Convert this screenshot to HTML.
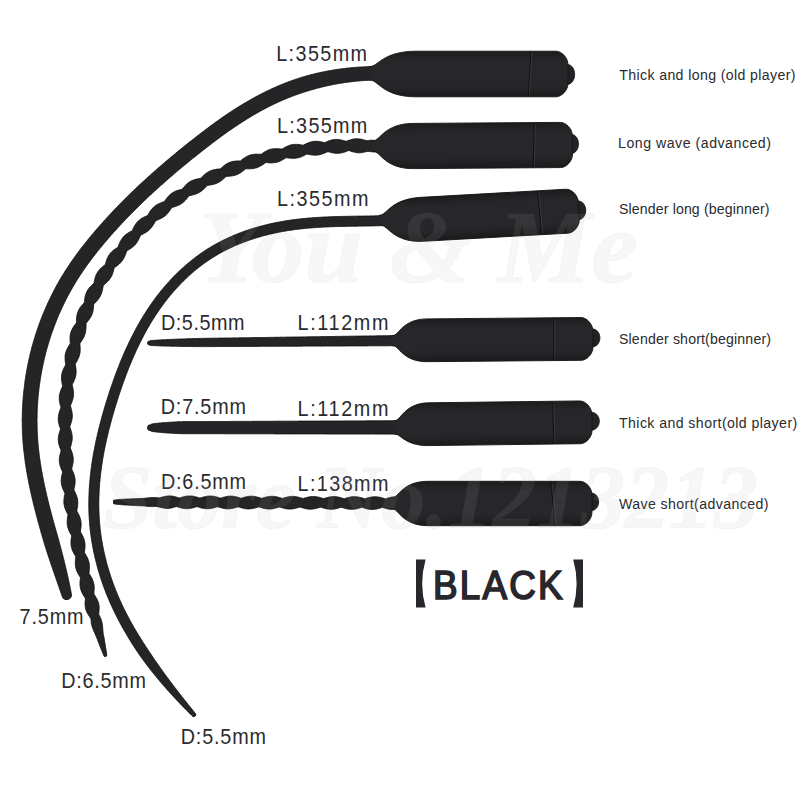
<!DOCTYPE html>
<html><head><meta charset="utf-8"><style>
html,body{margin:0;padding:0;background:#fff;}
body{width:800px;height:800px;overflow:hidden;position:relative;}
svg{position:absolute;left:0;top:0;}
</style></head><body>
<svg width="800" height="800" viewBox="0 0 800 800">
<defs>
<linearGradient id="bg" x1="0" y1="0" x2="0" y2="1">
<stop offset="0" stop-color="#1c1c1f"/><stop offset="0.22" stop-color="#27272a"/><stop offset="0.75" stop-color="#27272a"/><stop offset="1" stop-color="#1b1b1e"/>
</linearGradient>
</defs>
<rect width="800" height="800" fill="#ffffff"/>
<g fill="#252528" stroke="#0e0e10" stroke-width="0.9" stroke-linejoin="round">
<path d="M376.0,66.6 L375.2,66.6 L374.4,66.6 L373.5,66.6 L372.7,66.6 L371.9,66.6 L371.1,66.6 L370.3,66.7 L369.5,66.7 L368.7,66.7 L367.9,66.7 L367.1,66.7 L366.2,66.8 L365.4,66.8 L364.6,66.8 L363.8,66.9 L363.0,66.9 L362.2,67.0 L361.4,67.0 L360.6,67.0 L359.8,67.1 L358.9,67.1 L358.1,67.2 L357.3,67.3 L356.5,67.3 L355.7,67.4 L354.9,67.4 L354.1,67.5 L353.3,67.6 L352.5,67.6 L351.7,67.7 L350.9,67.8 L350.0,67.9 L349.2,68.0 L348.4,68.0 L347.6,68.1 L346.8,68.2 L346.0,68.3 L345.2,68.4 L344.4,68.5 L343.6,68.6 L342.8,68.7 L342.0,68.8 L341.2,68.9 L340.4,69.0 L339.6,69.1 L338.8,69.2 L337.9,69.3 L337.1,69.5 L336.3,69.6 L335.5,69.7 L334.7,69.8 L333.9,70.0 L333.1,70.1 L332.3,70.2 L331.5,70.4 L330.7,70.5 L329.9,70.6 L329.1,70.8 L328.3,70.9 L327.5,71.1 L326.7,71.2 L325.9,71.4 L325.1,71.5 L324.3,71.7 L323.5,71.9 L322.7,72.0 L321.9,72.2 L321.1,72.3 L320.3,72.5 L319.5,72.7 L318.7,72.9 L318.0,73.0 L317.2,73.2 L316.4,73.4 L315.6,73.6 L314.8,73.8 L314.0,74.0 L313.2,74.2 L312.4,74.4 L311.6,74.6 L310.8,74.8 L310.0,75.0 L309.3,75.2 L308.5,75.4 L307.7,75.6 L306.9,75.8 L306.1,76.0 L305.3,76.3 L304.5,76.5 L303.8,76.7 L303.0,77.0 L302.2,77.2 L301.4,77.4 L300.6,77.7 L299.9,77.9 L299.1,78.2 L298.3,78.4 L297.5,78.7 L296.8,78.9 L296.0,79.2 L295.2,79.4 L294.4,79.7 L293.7,80.0 L292.9,80.2 L292.1,80.5 L291.4,80.8 L290.6,81.1 L289.8,81.4 L289.1,81.6 L288.3,81.9 L287.5,82.2 L286.8,82.5 L286.0,82.8 L285.2,83.1 L284.5,83.4 L283.7,83.7 L283.0,84.0 L282.2,84.3 L281.5,84.6 L280.7,84.9 L279.9,85.2 L279.2,85.5 L278.4,85.9 L277.7,86.2 L276.9,86.5 L276.2,86.8 L275.5,87.2 L274.7,87.5 L274.0,87.8 L273.2,88.1 L272.5,88.5 L271.7,88.8 L271.0,89.2 L270.3,89.5 L269.5,89.9 L268.8,90.2 L268.1,90.6 L267.3,90.9 L266.6,91.3 L265.9,91.6 L265.1,92.0 L264.4,92.3 L263.7,92.7 L263.0,93.1 L262.2,93.4 L261.5,93.8 L260.8,94.2 L260.1,94.5 L259.3,94.9 L258.6,95.3 L257.9,95.7 L257.2,96.0 L256.5,96.4 L255.8,96.8 L255.0,97.2 L254.3,97.6 L253.6,98.0 L252.9,98.4 L252.2,98.8 L251.5,99.2 L250.8,99.6 L250.1,100.0 L249.4,100.4 L248.7,100.8 L248.0,101.2 L247.3,101.6 L246.6,102.0 L245.9,102.4 L245.2,102.8 L244.5,103.2 L243.8,103.6 L243.1,104.0 L242.4,104.5 L241.7,104.9 L241.0,105.3 L240.3,105.7 L239.6,106.1 L239.0,106.6 L238.3,107.0 L237.6,107.4 L236.9,107.8 L236.2,108.3 L235.5,108.7 L234.9,109.1 L234.2,109.6 L233.5,110.0 L232.8,110.5 L232.1,110.9 L231.5,111.3 L230.8,111.8 L230.1,112.2 L229.4,112.7 L228.8,113.1 L228.1,113.6 L227.4,114.0 L226.8,114.5 L226.1,114.9 L225.4,115.4 L224.8,115.8 L224.1,116.3 L223.4,116.7 L222.8,117.2 L222.1,117.6 L221.5,118.1 L220.8,118.6 L220.1,119.0 L219.5,119.5 L218.8,119.9 L218.2,120.4 L217.5,120.9 L216.9,121.3 L216.2,121.8 L215.5,122.3 L214.9,122.8 L214.2,123.2 L213.6,123.7 L212.9,124.2 L212.3,124.6 L211.7,125.1 L211.0,125.6 L210.4,126.1 L209.7,126.5 L209.1,127.0 L208.4,127.5 L207.8,128.0 L207.2,128.5 L206.5,128.9 L205.9,129.4 L205.2,129.9 L204.6,130.4 L204.0,130.9 L203.3,131.4 L202.7,131.8 L202.1,132.3 L201.4,132.8 L200.8,133.3 L200.2,133.8 L199.5,134.3 L198.9,134.8 L198.3,135.3 L197.6,135.7 L197.0,136.2 L196.4,136.7 L195.7,137.2 L195.1,137.7 L194.5,138.2 L193.9,138.7 L193.2,139.2 L192.6,139.7 L192.0,140.2 L191.4,140.7 L190.7,141.1 L190.1,141.6 L189.5,142.1 L188.9,142.6 L188.2,143.1 L187.6,143.6 L187.0,144.1 L186.4,144.6 L185.7,145.1 L185.1,145.6 L184.5,146.1 L183.9,146.6 L183.3,147.1 L182.6,147.6 L182.0,148.1 L181.4,148.6 L180.8,149.1 L180.2,149.6 L179.5,150.1 L178.9,150.6 L178.3,151.1 L177.7,151.6 L177.1,152.1 L176.5,152.6 L175.8,153.1 L175.2,153.7 L174.6,154.2 L174.0,154.7 L173.4,155.2 L172.8,155.7 L172.1,156.2 L171.5,156.7 L170.9,157.2 L170.3,157.7 L169.7,158.2 L169.1,158.8 L168.5,159.3 L167.9,159.8 L167.3,160.3 L166.6,160.8 L166.0,161.3 L165.4,161.8 L164.8,162.4 L164.2,162.9 L163.6,163.4 L163.0,163.9 L162.4,164.4 L161.8,165.0 L161.2,165.5 L160.6,166.0 L160.0,166.5 L159.4,167.0 L158.8,167.6 L158.2,168.1 L157.6,168.6 L157.0,169.1 L156.4,169.7 L155.8,170.2 L155.2,170.7 L154.6,171.3 L154.0,171.8 L153.4,172.3 L152.8,172.8 L152.2,173.4 L151.6,173.9 L151.0,174.4 L150.4,175.0 L149.8,175.5 L149.2,176.0 L148.6,176.6 L148.0,177.1 L147.4,177.6 L146.8,178.2 L146.2,178.7 L145.6,179.3 L145.0,179.8 L144.5,180.3 L143.9,180.9 L143.3,181.4 L142.7,182.0 L142.1,182.5 L141.5,183.0 L140.9,183.6 L140.3,184.1 L139.8,184.7 L139.2,185.2 L138.6,185.8 L138.0,186.3 L137.4,186.9 L136.8,187.4 L136.3,188.0 L135.7,188.5 L135.1,189.1 L134.5,189.6 L133.9,190.2 L133.4,190.7 L132.8,191.3 L132.2,191.8 L131.6,192.4 L131.1,193.0 L130.5,193.5 L129.9,194.1 L129.3,194.6 L128.8,195.2 L128.2,195.7 L127.6,196.3 L127.1,196.9 L126.5,197.4 L125.9,198.0 L125.4,198.6 L124.8,199.1 L124.2,199.7 L123.7,200.3 L123.1,200.8 L122.5,201.4 L122.0,202.0 L121.4,202.5 L120.8,203.1 L120.3,203.7 L119.7,204.2 L119.2,204.8 L118.6,205.4 L118.0,206.0 L117.5,206.5 L116.9,207.1 L116.4,207.7 L115.8,208.3 L115.3,208.8 L114.7,209.4 L114.1,210.0 L113.6,210.6 L113.0,211.2 L112.5,211.8 L111.9,212.3 L111.4,212.9 L110.8,213.5 L110.3,214.1 L109.8,214.7 L109.2,215.3 L108.7,215.9 L108.1,216.4 L107.6,217.0 L107.0,217.6 L106.5,218.2 L106.0,218.8 L105.4,219.4 L104.9,220.0 L104.3,220.6 L103.8,221.2 L103.3,221.8 L102.7,222.4 L102.2,223.0 L101.7,223.6 L101.1,224.2 L100.6,224.8 L100.1,225.4 L99.5,226.0 L99.0,226.6 L98.5,227.2 L97.9,227.8 L97.4,228.4 L96.9,229.0 L96.4,229.6 L95.8,230.2 L95.3,230.8 L94.8,231.4 L94.3,232.1 L93.8,232.7 L93.2,233.3 L92.7,233.9 L92.2,234.5 L91.7,235.1 L91.2,235.8 L90.7,236.4 L90.1,237.0 L89.6,237.6 L89.1,238.2 L88.6,238.9 L88.1,239.5 L87.6,240.1 L87.1,240.7 L86.6,241.4 L86.1,242.0 L85.6,242.6 L85.1,243.3 L84.6,243.9 L84.1,244.5 L83.6,245.2 L83.1,245.8 L82.6,246.4 L82.1,247.1 L81.6,247.7 L81.1,248.3 L80.6,249.0 L80.1,249.6 L79.6,250.3 L79.2,250.9 L78.7,251.6 L78.2,252.2 L77.7,252.9 L77.2,253.5 L76.8,254.2 L76.3,254.8 L75.8,255.5 L75.3,256.1 L74.9,256.8 L74.4,257.5 L73.9,258.1 L73.5,258.8 L73.0,259.4 L72.5,260.1 L72.1,260.8 L71.6,261.4 L71.1,262.1 L70.7,262.8 L70.2,263.4 L69.8,264.1 L69.3,264.8 L68.9,265.5 L68.4,266.1 L68.0,266.8 L67.5,267.5 L67.1,268.2 L66.6,268.8 L66.2,269.5 L65.8,270.2 L65.3,270.9 L64.9,271.6 L64.5,272.3 L64.0,273.0 L63.6,273.7 L63.2,274.4 L62.7,275.0 L62.3,275.7 L61.9,276.4 L61.5,277.1 L61.1,277.8 L60.7,278.5 L60.2,279.2 L59.8,279.9 L59.4,280.6 L59.0,281.3 L58.6,282.1 L58.2,282.8 L57.8,283.5 L57.4,284.2 L57.0,284.9 L56.6,285.6 L56.2,286.3 L55.9,287.0 L55.5,287.7 L55.1,288.5 L54.7,289.2 L54.3,289.9 L54.0,290.6 L53.6,291.3 L53.2,292.1 L52.8,292.8 L52.5,293.5 L52.1,294.2 L51.7,295.0 L51.4,295.7 L51.0,296.4 L50.7,297.2 L50.3,297.9 L50.0,298.6 L49.6,299.4 L49.3,300.1 L48.9,300.8 L48.6,301.6 L48.2,302.3 L47.9,303.0 L47.5,303.8 L47.2,304.5 L46.9,305.3 L46.5,306.0 L46.2,306.7 L45.9,307.5 L45.6,308.2 L45.2,309.0 L44.9,309.7 L44.6,310.5 L44.3,311.2 L44.0,312.0 L43.7,312.7 L43.3,313.5 L43.0,314.2 L42.7,315.0 L42.4,315.7 L42.1,316.5 L41.8,317.2 L41.5,318.0 L41.2,318.8 L41.0,319.5 L40.7,320.3 L40.4,321.0 L40.1,321.8 L39.8,322.6 L39.5,323.3 L39.2,324.1 L39.0,324.8 L38.7,325.6 L38.4,326.4 L38.2,327.1 L37.9,327.9 L37.6,328.7 L37.4,329.4 L37.1,330.2 L36.8,331.0 L36.6,331.8 L36.3,332.5 L36.1,333.3 L35.8,334.1 L35.6,334.8 L35.3,335.6 L35.1,336.4 L34.9,337.2 L34.6,338.0 L34.4,338.7 L34.2,339.5 L33.9,340.3 L33.7,341.1 L33.5,341.8 L33.2,342.6 L33.0,343.4 L32.8,344.2 L32.6,345.0 L32.4,345.8 L32.1,346.5 L31.9,347.3 L31.7,348.1 L31.5,348.9 L31.3,349.7 L31.1,350.5 L30.9,351.2 L30.7,352.0 L30.5,352.8 L30.3,353.6 L30.1,354.4 L29.9,355.2 L29.8,356.0 L29.6,356.8 L29.4,357.6 L29.2,358.4 L29.0,359.1 L28.9,359.9 L28.7,360.7 L28.5,361.5 L28.3,362.3 L28.2,363.1 L28.0,363.9 L27.9,364.7 L27.7,365.5 L27.5,366.3 L27.4,367.1 L27.2,367.9 L27.1,368.7 L26.9,369.5 L26.8,370.3 L26.6,371.1 L26.5,371.9 L26.4,372.7 L26.2,373.5 L26.1,374.3 L26.0,375.1 L25.8,375.9 L25.7,376.7 L25.6,377.5 L25.5,378.3 L25.3,379.1 L25.2,379.9 L25.1,380.7 L25.0,381.5 L24.9,382.3 L24.8,383.1 L24.7,383.9 L24.6,384.7 L24.5,385.5 L24.4,386.3 L24.3,387.2 L24.2,388.0 L24.1,388.8 L24.0,389.6 L23.9,390.4 L23.8,391.2 L23.7,392.0 L23.6,392.8 L23.6,393.6 L23.5,394.4 L23.4,395.2 L23.3,396.0 L23.3,396.8 L23.2,397.7 L23.1,398.5 L23.1,399.3 L23.0,400.1 L22.9,400.9 L22.9,401.7 L22.8,402.5 L22.8,403.3 L22.7,404.1 L22.7,404.9 L22.6,405.8 L22.6,406.6 L22.6,407.4 L22.5,408.2 L22.5,409.0 L22.5,409.8 L22.4,410.6 L22.4,411.4 L22.4,412.3 L22.3,413.1 L22.3,413.9 L22.3,414.7 L22.3,415.5 L22.3,416.3 L22.3,417.1 L22.3,417.9 L22.2,418.7 L22.2,419.6 L22.2,420.4 L22.2,421.2 L22.2,422.0 L22.2,422.8 L22.3,423.6 L22.3,424.4 L22.3,425.2 L22.3,426.1 L22.3,426.9 L22.3,427.7 L22.3,428.5 L22.4,429.3 L22.4,430.1 L22.4,430.9 L22.5,431.7 L22.5,432.6 L22.5,433.4 L22.6,434.2 L22.6,435.0 L22.6,435.8 L22.7,436.6 L22.7,437.4 L22.8,438.2 L22.8,439.0 L22.9,439.9 L22.9,440.7 L23.0,441.5 L23.1,442.3 L23.1,443.1 L23.2,443.9 L23.3,444.7 L23.3,445.5 L23.4,446.3 L23.5,447.1 L23.6,448.0 L23.6,448.8 L23.7,449.6 L23.8,450.4 L23.9,451.2 L24.0,452.0 L24.1,452.8 L24.2,453.6 L24.3,454.4 L24.4,455.2 L24.5,456.0 L24.6,456.8 L24.7,457.6 L24.8,458.4 L24.9,459.2 L25.0,460.0 L25.1,460.8 L25.2,461.6 L25.3,462.4 L25.4,463.2 L25.5,464.0 L25.7,464.8 L25.8,465.6 L25.9,466.4 L26.0,467.2 L26.2,468.0 L26.3,468.8 L26.4,469.6 L26.6,470.4 L26.7,471.2 L26.8,472.0 L27.0,472.8 L27.1,473.6 L27.2,474.4 L27.4,475.2 L27.5,476.0 L27.7,476.8 L27.8,477.6 L28.0,478.3 L28.1,479.1 L28.3,479.9 L28.4,480.7 L28.6,481.5 L28.7,482.3 L28.9,483.1 L29.1,483.9 L29.2,484.7 L29.4,485.4 L29.5,486.2 L29.7,487.0 L29.9,487.8 L30.0,488.6 L30.2,489.4 L30.4,490.2 L30.5,491.0 L30.7,491.7 L30.9,492.5 L31.1,493.3 L31.2,494.1 L31.4,494.9 L31.6,495.7 L31.8,496.4 L32.0,497.2 L32.1,498.0 L32.3,498.8 L32.5,499.6 L32.7,500.3 L32.9,501.1 L33.1,501.9 L33.3,502.7 L33.4,503.5 L33.6,504.2 L33.8,505.0 L34.0,505.8 L34.2,506.6 L34.4,507.3 L34.6,508.1 L34.8,508.9 L35.0,509.7 L35.2,510.4 L35.4,511.2 L35.6,512.0 L35.8,512.8 L36.0,513.5 L36.2,514.3 L36.4,515.1 L36.6,515.9 L36.8,516.6 L37.0,517.4 L37.2,518.2 L37.4,518.9 L37.6,519.7 L37.8,520.5 L38.0,521.2 L38.2,522.0 L38.5,522.8 L38.7,523.6 L38.9,524.3 L39.1,525.1 L39.3,525.9 L39.5,526.6 L39.7,527.4 L39.9,528.2 L40.2,528.9 L40.4,529.7 L40.6,530.5 L40.8,531.2 L41.0,532.0 L41.2,532.8 L41.4,533.5 L41.7,534.3 L41.9,535.1 L42.1,535.8 L42.3,536.6 L42.5,537.3 L42.8,538.1 L43.0,538.9 L43.2,539.6 L43.4,540.4 L43.6,541.2 L43.9,541.9 L44.1,542.7 L44.3,543.4 L44.6,544.2 L44.8,545.0 L45.0,545.7 L45.3,546.5 L45.5,547.2 L45.7,548.0 L46.0,548.7 L46.2,549.5 L46.5,550.3 L46.7,551.0 L46.9,551.8 L47.2,552.5 L47.4,553.3 L47.7,554.0 L47.9,554.8 L48.2,555.5 L48.4,556.3 L48.7,557.0 L48.9,557.8 L49.2,558.5 L49.4,559.3 L49.7,560.0 L49.9,560.8 L50.2,561.5 L50.4,562.3 L50.7,563.0 L50.9,563.8 L51.2,564.5 L51.4,565.3 L51.7,566.0 L52.0,566.8 L52.2,567.5 L52.5,568.3 L52.7,569.0 L53.0,569.8 L53.2,570.5 L53.5,571.3 L53.8,572.0 L54.0,572.7 L54.3,573.5 L54.5,574.2 L54.8,575.0 L55.0,575.7 L55.3,576.5 L55.6,577.2 L55.8,578.0 L56.1,578.7 L56.3,579.5 L56.6,580.2 L56.8,580.9 L57.1,581.7 L57.4,582.4 L57.6,583.2 L57.9,583.9 L58.1,584.7 L58.4,585.4 L58.7,586.2 L58.9,586.9 L59.2,587.7 L59.4,588.4 L59.7,589.1 L59.9,589.9 L60.2,590.6 L60.5,591.4 L60.7,592.1 L61.0,592.9 L61.2,593.6 L61.5,594.4 L61.7,595.1 L62.0,595.8 L62.2,596.6 A4.8,4.8 0 0 0 71.4,594.2 L71.4,594.2 L71.3,593.4 L71.1,592.6 L71.0,591.8 L70.8,591.0 L70.7,590.3 L70.5,589.5 L70.4,588.7 L70.2,587.9 L70.0,587.1 L69.9,586.3 L69.7,585.6 L69.6,584.8 L69.4,584.0 L69.2,583.2 L69.1,582.4 L68.9,581.7 L68.7,580.9 L68.6,580.1 L68.4,579.3 L68.2,578.6 L68.1,577.8 L67.9,577.0 L67.7,576.2 L67.5,575.4 L67.4,574.7 L67.2,573.9 L67.0,573.1 L66.8,572.3 L66.6,571.6 L66.5,570.8 L66.3,570.0 L66.1,569.3 L65.9,568.5 L65.7,567.7 L65.6,566.9 L65.4,566.2 L65.2,565.4 L65.0,564.6 L64.8,563.8 L64.6,563.1 L64.4,562.3 L64.3,561.5 L64.1,560.8 L63.9,560.0 L63.7,559.2 L63.5,558.5 L63.3,557.7 L63.1,556.9 L62.9,556.1 L62.7,555.4 L62.5,554.6 L62.3,553.8 L62.1,553.1 L61.9,552.3 L61.7,551.5 L61.5,550.8 L61.3,550.0 L61.1,549.3 L60.9,548.5 L60.7,547.7 L60.5,547.0 L60.3,546.2 L60.1,545.4 L59.9,544.7 L59.7,543.9 L59.5,543.1 L59.3,542.4 L59.1,541.6 L58.9,540.9 L58.7,540.1 L58.5,539.3 L58.3,538.6 L58.1,537.8 L57.8,537.1 L57.6,536.3 L57.4,535.5 L57.2,534.8 L57.0,534.0 L56.8,533.3 L56.5,532.5 L56.3,531.8 L56.1,531.0 L55.9,530.2 L55.7,529.5 L55.5,528.7 L55.3,528.0 L55.0,527.2 L54.8,526.5 L54.6,525.7 L54.4,524.9 L54.2,524.2 L54.0,523.4 L53.8,522.7 L53.6,521.9 L53.4,521.2 L53.1,520.4 L52.9,519.6 L52.7,518.9 L52.5,518.1 L52.3,517.4 L52.1,516.6 L51.9,515.9 L51.7,515.1 L51.5,514.3 L51.3,513.6 L51.1,512.8 L50.9,512.1 L50.7,511.3 L50.5,510.6 L50.3,509.8 L50.1,509.0 L49.9,508.3 L49.7,507.5 L49.5,506.8 L49.3,506.0 L49.1,505.3 L48.9,504.5 L48.8,503.7 L48.6,503.0 L48.4,502.2 L48.2,501.5 L48.0,500.7 L47.8,499.9 L47.6,499.2 L47.5,498.4 L47.3,497.7 L47.1,496.9 L46.9,496.2 L46.7,495.4 L46.6,494.6 L46.4,493.9 L46.2,493.1 L46.0,492.4 L45.9,491.6 L45.7,490.8 L45.5,490.1 L45.3,489.3 L45.2,488.5 L45.0,487.8 L44.8,487.0 L44.7,486.3 L44.5,485.5 L44.3,484.7 L44.2,484.0 L44.0,483.2 L43.9,482.5 L43.7,481.7 L43.6,480.9 L43.4,480.2 L43.3,479.4 L43.1,478.6 L43.0,477.9 L42.8,477.1 L42.7,476.4 L42.5,475.6 L42.4,474.8 L42.2,474.1 L42.1,473.3 L42.0,472.5 L41.8,471.8 L41.7,471.0 L41.5,470.3 L41.4,469.5 L41.3,468.7 L41.2,468.0 L41.0,467.2 L40.9,466.4 L40.8,465.7 L40.7,464.9 L40.5,464.1 L40.4,463.4 L40.3,462.6 L40.2,461.8 L40.1,461.1 L40.0,460.3 L39.9,459.5 L39.7,458.8 L39.6,458.0 L39.5,457.3 L39.4,456.5 L39.3,455.7 L39.2,455.0 L39.1,454.2 L39.0,453.4 L39.0,452.7 L38.9,451.9 L38.8,451.1 L38.7,450.4 L38.6,449.6 L38.5,448.8 L38.4,448.1 L38.4,447.3 L38.3,446.5 L38.2,445.8 L38.1,445.0 L38.1,444.2 L38.0,443.5 L37.9,442.7 L37.9,441.9 L37.8,441.2 L37.8,440.4 L37.7,439.6 L37.7,438.8 L37.6,438.1 L37.6,437.3 L37.5,436.5 L37.5,435.8 L37.4,435.0 L37.4,434.2 L37.3,433.5 L37.3,432.7 L37.3,431.9 L37.2,431.2 L37.2,430.4 L37.2,429.6 L37.2,428.9 L37.1,428.1 L37.1,427.3 L37.1,426.6 L37.1,425.8 L37.1,425.0 L37.1,424.2 L37.1,423.5 L37.0,422.7 L37.0,421.9 L37.0,421.2 L37.0,420.4 L37.0,419.6 L37.0,418.9 L37.1,418.1 L37.1,417.3 L37.1,416.5 L37.1,415.8 L37.1,415.0 L37.1,414.2 L37.1,413.5 L37.2,412.7 L37.2,411.9 L37.2,411.2 L37.2,410.4 L37.3,409.6 L37.3,408.9 L37.3,408.1 L37.4,407.3 L37.4,406.6 L37.5,405.8 L37.5,405.0 L37.6,404.2 L37.6,403.5 L37.7,402.7 L37.7,401.9 L37.8,401.2 L37.8,400.4 L37.9,399.6 L37.9,398.9 L38.0,398.1 L38.1,397.3 L38.1,396.6 L38.2,395.8 L38.3,395.0 L38.4,394.3 L38.4,393.5 L38.5,392.7 L38.6,392.0 L38.7,391.2 L38.8,390.4 L38.9,389.7 L38.9,388.9 L39.0,388.2 L39.1,387.4 L39.2,386.6 L39.3,385.9 L39.4,385.1 L39.5,384.3 L39.6,383.6 L39.8,382.8 L39.9,382.0 L40.0,381.3 L40.1,380.5 L40.2,379.8 L40.3,379.0 L40.4,378.2 L40.6,377.5 L40.7,376.7 L40.8,376.0 L40.9,375.2 L41.1,374.4 L41.2,373.7 L41.4,372.9 L41.5,372.2 L41.6,371.4 L41.8,370.7 L41.9,369.9 L42.1,369.1 L42.2,368.4 L42.4,367.6 L42.5,366.9 L42.7,366.1 L42.8,365.4 L43.0,364.6 L43.2,363.9 L43.3,363.1 L43.5,362.4 L43.7,361.6 L43.8,360.9 L44.0,360.1 L44.2,359.4 L44.3,358.6 L44.5,357.9 L44.7,357.1 L44.9,356.4 L45.1,355.6 L45.3,354.9 L45.5,354.1 L45.6,353.4 L45.8,352.6 L46.0,351.9 L46.2,351.2 L46.4,350.4 L46.6,349.7 L46.8,348.9 L47.0,348.2 L47.3,347.4 L47.5,346.7 L47.7,346.0 L47.9,345.2 L48.1,344.5 L48.3,343.7 L48.6,343.0 L48.8,342.3 L49.0,341.5 L49.2,340.8 L49.5,340.1 L49.7,339.3 L49.9,338.6 L50.2,337.9 L50.4,337.1 L50.6,336.4 L50.9,335.7 L51.1,334.9 L51.4,334.2 L51.6,333.5 L51.9,332.8 L52.1,332.0 L52.4,331.3 L52.6,330.6 L52.9,329.9 L53.2,329.1 L53.4,328.4 L53.7,327.7 L54.0,327.0 L54.2,326.2 L54.5,325.5 L54.8,324.8 L55.1,324.1 L55.3,323.4 L55.6,322.7 L55.9,321.9 L56.2,321.2 L56.5,320.5 L56.8,319.8 L57.0,319.1 L57.3,318.4 L57.6,317.7 L57.9,317.0 L58.2,316.2 L58.5,315.5 L58.8,314.8 L59.1,314.1 L59.4,313.4 L59.8,312.7 L60.1,312.0 L60.4,311.3 L60.7,310.6 L61.0,309.9 L61.3,309.2 L61.7,308.5 L62.0,307.8 L62.3,307.1 L62.6,306.4 L63.0,305.7 L63.3,305.0 L63.6,304.3 L64.0,303.6 L64.3,303.0 L64.6,302.3 L65.0,301.6 L65.3,300.9 L65.7,300.2 L66.0,299.5 L66.4,298.8 L66.7,298.2 L67.1,297.5 L67.4,296.8 L67.8,296.1 L68.2,295.4 L68.5,294.7 L68.9,294.1 L69.2,293.4 L69.6,292.7 L70.0,292.0 L70.4,291.4 L70.7,290.7 L71.1,290.0 L71.5,289.4 L71.9,288.7 L72.3,288.0 L72.6,287.4 L73.0,286.7 L73.4,286.0 L73.8,285.4 L74.2,284.7 L74.6,284.1 L75.0,283.4 L75.4,282.7 L75.8,282.1 L76.2,281.4 L76.6,280.8 L77.0,280.1 L77.4,279.5 L77.8,278.8 L78.2,278.2 L78.7,277.5 L79.1,276.9 L79.5,276.2 L79.9,275.6 L80.3,274.9 L80.8,274.3 L81.2,273.7 L81.6,273.0 L82.0,272.4 L82.5,271.7 L82.9,271.1 L83.3,270.5 L83.8,269.8 L84.2,269.2 L84.7,268.6 L85.1,267.9 L85.5,267.3 L86.0,266.7 L86.4,266.0 L86.9,265.4 L87.3,264.8 L87.8,264.2 L88.2,263.5 L88.7,262.9 L89.2,262.3 L89.6,261.7 L90.1,261.0 L90.5,260.4 L91.0,259.8 L91.5,259.2 L91.9,258.6 L92.4,258.0 L92.9,257.3 L93.3,256.7 L93.8,256.1 L94.3,255.5 L94.8,254.9 L95.2,254.3 L95.7,253.7 L96.2,253.1 L96.7,252.4 L97.2,251.8 L97.6,251.2 L98.1,250.6 L98.6,250.0 L99.1,249.4 L99.6,248.8 L100.1,248.2 L100.6,247.6 L101.1,247.0 L101.6,246.4 L102.1,245.8 L102.6,245.2 L103.1,244.6 L103.5,244.0 L104.0,243.4 L104.6,242.8 L105.1,242.2 L105.6,241.6 L106.1,241.0 L106.6,240.5 L107.1,239.9 L107.6,239.3 L108.1,238.7 L108.6,238.1 L109.1,237.5 L109.6,236.9 L110.1,236.3 L110.6,235.7 L111.2,235.2 L111.7,234.6 L112.2,234.0 L112.7,233.4 L113.2,232.8 L113.8,232.2 L114.3,231.7 L114.8,231.1 L115.3,230.5 L115.8,229.9 L116.4,229.4 L116.9,228.8 L117.4,228.2 L117.9,227.6 L118.5,227.1 L119.0,226.5 L119.5,225.9 L120.1,225.3 L120.6,224.8 L121.1,224.2 L121.7,223.6 L122.2,223.0 L122.7,222.5 L123.3,221.9 L123.8,221.3 L124.3,220.8 L124.9,220.2 L125.4,219.6 L125.9,219.1 L126.5,218.5 L127.0,218.0 L127.6,217.4 L128.1,216.8 L128.7,216.3 L129.2,215.7 L129.7,215.2 L130.3,214.6 L130.8,214.0 L131.4,213.5 L131.9,212.9 L132.5,212.4 L133.0,211.8 L133.6,211.3 L134.1,210.7 L134.7,210.2 L135.2,209.6 L135.8,209.1 L136.3,208.5 L136.9,208.0 L137.5,207.4 L138.0,206.9 L138.6,206.3 L139.1,205.8 L139.7,205.2 L140.2,204.7 L140.8,204.1 L141.4,203.6 L141.9,203.0 L142.5,202.5 L143.1,202.0 L143.6,201.4 L144.2,200.9 L144.7,200.3 L145.3,199.8 L145.9,199.3 L146.4,198.7 L147.0,198.2 L147.6,197.6 L148.2,197.1 L148.7,196.6 L149.3,196.0 L149.9,195.5 L150.4,195.0 L151.0,194.4 L151.6,193.9 L152.2,193.4 L152.7,192.8 L153.3,192.3 L153.9,191.8 L154.5,191.2 L155.0,190.7 L155.6,190.2 L156.2,189.7 L156.8,189.1 L157.4,188.6 L157.9,188.1 L158.5,187.6 L159.1,187.0 L159.7,186.5 L160.3,186.0 L160.8,185.5 L161.4,185.0 L162.0,184.4 L162.6,183.9 L163.2,183.4 L163.8,182.9 L164.4,182.4 L164.9,181.8 L165.5,181.3 L166.1,180.8 L166.7,180.3 L167.3,179.8 L167.9,179.3 L168.5,178.7 L169.1,178.2 L169.7,177.7 L170.3,177.2 L170.8,176.7 L171.4,176.2 L172.0,175.7 L172.6,175.2 L173.2,174.7 L173.8,174.1 L174.4,173.6 L175.0,173.1 L175.6,172.6 L176.2,172.1 L176.8,171.6 L177.4,171.1 L178.0,170.6 L178.6,170.1 L179.2,169.6 L179.8,169.1 L180.4,168.6 L181.0,168.1 L181.6,167.6 L182.2,167.1 L182.8,166.6 L183.4,166.1 L184.0,165.6 L184.6,165.1 L185.2,164.6 L185.8,164.1 L186.5,163.6 L187.1,163.1 L187.7,162.6 L188.3,162.1 L188.9,161.6 L189.5,161.1 L190.1,160.6 L190.7,160.1 L191.3,159.6 L191.9,159.1 L192.5,158.6 L193.2,158.1 L193.8,157.6 L194.4,157.2 L195.0,156.7 L195.6,156.2 L196.2,155.7 L196.8,155.2 L197.4,154.7 L198.1,154.2 L198.7,153.7 L199.3,153.2 L199.9,152.8 L200.5,152.3 L201.1,151.8 L201.8,151.3 L202.4,150.8 L203.0,150.3 L203.6,149.8 L204.2,149.4 L204.8,148.9 L205.5,148.4 L206.1,147.9 L206.7,147.4 L207.3,147.0 L207.9,146.5 L208.6,146.0 L209.2,145.5 L209.8,145.0 L210.4,144.6 L211.1,144.1 L211.7,143.6 L212.3,143.1 L212.9,142.7 L213.5,142.2 L214.2,141.7 L214.8,141.2 L215.4,140.8 L216.0,140.3 L216.7,139.8 L217.3,139.4 L217.9,138.9 L218.5,138.4 L219.2,138.0 L219.8,137.5 L220.4,137.0 L221.1,136.6 L221.7,136.1 L222.3,135.7 L222.9,135.2 L223.6,134.7 L224.2,134.3 L224.8,133.8 L225.5,133.4 L226.1,132.9 L226.7,132.5 L227.4,132.0 L228.0,131.6 L228.6,131.1 L229.3,130.7 L229.9,130.2 L230.6,129.8 L231.2,129.4 L231.8,128.9 L232.5,128.5 L233.1,128.0 L233.8,127.6 L234.4,127.2 L235.0,126.7 L235.7,126.3 L236.3,125.9 L237.0,125.4 L237.6,125.0 L238.3,124.6 L238.9,124.1 L239.6,123.7 L240.2,123.3 L240.9,122.9 L241.5,122.5 L242.2,122.0 L242.8,121.6 L243.5,121.2 L244.1,120.8 L244.8,120.4 L245.4,120.0 L246.1,119.6 L246.8,119.1 L247.4,118.7 L248.1,118.3 L248.7,117.9 L249.4,117.5 L250.1,117.1 L250.7,116.7 L251.4,116.3 L252.0,115.9 L252.7,115.5 L253.4,115.1 L254.0,114.8 L254.7,114.4 L255.4,114.0 L256.0,113.6 L256.7,113.2 L257.4,112.8 L258.1,112.4 L258.7,112.1 L259.4,111.7 L260.1,111.3 L260.8,110.9 L261.4,110.6 L262.1,110.2 L262.8,109.8 L263.5,109.5 L264.1,109.1 L264.8,108.8 L265.5,108.4 L266.2,108.0 L266.9,107.7 L267.6,107.3 L268.2,107.0 L268.9,106.6 L269.6,106.3 L270.3,105.9 L271.0,105.6 L271.7,105.2 L272.4,104.9 L273.1,104.6 L273.8,104.2 L274.4,103.9 L275.1,103.6 L275.8,103.2 L276.5,102.9 L277.2,102.6 L277.9,102.3 L278.6,102.0 L279.3,101.6 L280.0,101.3 L280.7,101.0 L281.4,100.7 L282.1,100.4 L282.8,100.1 L283.5,99.8 L284.2,99.5 L284.9,99.2 L285.7,98.9 L286.4,98.6 L287.1,98.3 L287.8,98.0 L288.5,97.7 L289.2,97.4 L289.9,97.2 L290.6,96.9 L291.3,96.6 L292.1,96.3 L292.8,96.0 L293.5,95.8 L294.2,95.5 L294.9,95.2 L295.6,95.0 L296.4,94.7 L297.1,94.5 L297.8,94.2 L298.5,94.0 L299.2,93.7 L300.0,93.5 L300.7,93.2 L301.4,93.0 L302.2,92.7 L302.9,92.5 L303.6,92.3 L304.3,92.0 L305.1,91.8 L305.8,91.6 L306.5,91.3 L307.3,91.1 L308.0,90.9 L308.7,90.7 L309.5,90.5 L310.2,90.2 L310.9,90.0 L311.7,89.8 L312.4,89.6 L313.1,89.4 L313.9,89.2 L314.6,89.0 L315.4,88.7 L316.1,88.5 L316.8,88.3 L317.6,88.1 L318.3,88.0 L319.1,87.8 L319.8,87.6 L320.6,87.4 L321.3,87.2 L322.0,87.0 L322.8,86.8 L323.5,86.7 L324.3,86.5 L325.0,86.3 L325.8,86.1 L326.5,86.0 L327.3,85.8 L328.0,85.6 L328.8,85.5 L329.5,85.3 L330.3,85.2 L331.0,85.0 L331.8,84.8 L332.6,84.7 L333.3,84.5 L334.1,84.4 L334.8,84.3 L335.6,84.1 L336.3,84.0 L337.1,83.8 L337.8,83.7 L338.6,83.6 L339.4,83.4 L340.1,83.3 L340.9,83.2 L341.6,83.1 L342.4,83.0 L343.2,82.8 L343.9,82.7 L344.7,82.6 L345.4,82.5 L346.2,82.4 L347.0,82.3 L347.7,82.2 L348.5,82.1 L349.2,82.0 L350.0,81.9 L350.8,81.8 L351.5,81.7 L352.3,81.6 L353.1,81.5 L353.8,81.4 L354.6,81.4 L355.4,81.3 L356.1,81.2 L356.9,81.1 L357.7,81.0 L358.4,81.0 L359.2,80.9 L360.0,80.8 L360.7,80.8 L361.5,80.7 L362.3,80.7 L363.0,80.6 L363.8,80.5 L364.6,80.5 L365.3,80.4 L366.1,80.4 L366.9,80.4 L367.7,80.3 L368.4,80.3 L369.2,80.2 L370.0,80.2 L370.7,80.2 L371.5,80.1 L372.3,80.1 L373.0,80.1 L373.8,80.0 L374.6,80.0 L375.4,80.0 L376.1,80.0 Z"/>
<path d="M377.2,140.5 L376.4,140.4 L375.6,140.4 L374.8,140.4 L374.0,140.3 L373.2,140.3 L372.4,140.2 L371.6,140.2 L370.8,140.2 L370.0,140.3 L369.2,140.4 L368.4,140.6 L367.6,140.7 L366.8,140.6 L366.0,140.5 L365.2,140.3 L364.4,140.1 L363.6,139.9 L362.8,139.6 L362.0,139.4 L361.2,139.2 L360.4,139.1 L359.6,139.0 L358.8,138.9 L358.0,138.8 L357.2,138.8 L356.4,138.8 L355.6,138.8 L354.8,138.9 L354.0,139.0 L353.2,139.1 L352.4,139.3 L351.6,139.5 L350.8,139.7 L350.0,140.0 L349.2,140.2 L348.4,140.5 L347.6,140.8 L346.8,141.1 L346.0,141.3 L345.2,141.1 L344.4,140.8 L343.6,140.6 L342.8,140.4 L342.0,140.2 L341.2,140.0 L340.3,139.8 L339.5,139.7 L338.7,139.6 L337.9,139.5 L337.1,139.4 L336.3,139.4 L335.5,139.4 L334.7,139.5 L333.9,139.6 L333.1,139.7 L332.3,139.9 L331.5,140.0 L330.7,140.3 L329.9,140.5 L329.2,140.8 L328.4,141.1 L327.6,141.4 L326.8,141.7 L326.1,142.0 L325.3,142.4 L324.5,142.6 L323.7,142.4 L322.9,142.2 L322.0,142.1 L321.2,141.9 L320.4,141.7 L319.6,141.6 L318.8,141.5 L317.9,141.4 L317.1,141.3 L316.3,141.3 L315.5,141.3 L314.7,141.3 L313.9,141.4 L313.1,141.5 L312.3,141.6 L311.5,141.8 L310.7,142.0 L310.0,142.2 L309.2,142.5 L308.4,142.8 L307.7,143.1 L306.9,143.4 L306.1,143.8 L305.4,144.1 L304.6,144.5 L303.9,144.9 L303.1,145.2 L302.3,145.1 L301.5,144.9 L300.6,144.8 L299.8,144.7 L299.0,144.6 L298.1,144.5 L297.3,144.4 L296.5,144.4 L295.7,144.4 L294.9,144.4 L294.1,144.4 L293.3,144.5 L292.5,144.6 L291.7,144.8 L290.9,144.9 L290.1,145.1 L289.3,145.4 L288.6,145.7 L287.8,146.0 L287.1,146.3 L286.3,146.7 L285.6,147.0 L284.8,147.4 L284.1,147.9 L283.4,148.3 L282.7,148.7 L281.9,149.1 L281.1,149.0 L280.2,148.9 L279.4,148.8 L278.6,148.8 L277.7,148.7 L276.9,148.7 L276.1,148.7 L275.3,148.7 L274.4,148.7 L273.6,148.8 L272.8,148.9 L272.0,149.0 L271.2,149.2 L270.5,149.3 L269.7,149.6 L268.9,149.8 L268.2,150.1 L267.4,150.4 L266.7,150.8 L266.0,151.2 L265.2,151.6 L264.5,152.0 L263.8,152.4 L263.1,152.9 L262.4,153.4 L261.7,153.9 L261.0,154.3 L260.2,154.3 L259.3,154.3 L258.5,154.2 L257.6,154.2 L256.8,154.2 L256.0,154.2 L255.1,154.2 L254.3,154.3 L253.5,154.4 L252.7,154.5 L251.9,154.7 L251.1,154.8 L250.3,155.0 L249.6,155.3 L248.8,155.6 L248.1,155.9 L247.3,156.2 L246.6,156.6 L245.9,157.0 L245.2,157.4 L244.5,157.9 L243.8,158.3 L243.1,158.8 L242.4,159.3 L241.8,159.8 L241.1,160.4 L240.5,160.9 L239.6,160.9 L238.8,160.9 L237.9,161.0 L237.1,161.0 L236.2,161.1 L235.4,161.1 L234.6,161.2 L233.8,161.3 L233.0,161.5 L232.2,161.6 L231.4,161.8 L230.6,162.1 L229.8,162.3 L229.1,162.6 L228.4,163.0 L227.6,163.3 L226.9,163.7 L226.2,164.1 L225.5,164.6 L224.9,165.1 L224.2,165.6 L223.5,166.1 L222.9,166.6 L222.3,167.2 L221.6,167.7 L221.0,168.3 L220.4,168.9 L219.6,169.0 L218.7,169.0 L217.9,169.1 L217.0,169.2 L216.2,169.3 L215.4,169.5 L214.6,169.6 L213.8,169.8 L213.0,170.0 L212.2,170.2 L211.4,170.5 L210.6,170.8 L209.9,171.1 L209.2,171.4 L208.5,171.8 L207.8,172.2 L207.1,172.7 L206.4,173.1 L205.8,173.6 L205.1,174.1 L204.5,174.7 L203.9,175.2 L203.3,175.8 L202.7,176.4 L202.1,177.0 L201.5,177.6 L200.9,178.3 L200.1,178.5 L199.3,178.6 L198.4,178.7 L197.6,178.9 L196.8,179.1 L196.0,179.3 L195.2,179.5 L194.4,179.7 L193.6,180.0 L192.8,180.3 L192.1,180.6 L191.4,180.9 L190.6,181.3 L189.9,181.7 L189.3,182.1 L188.6,182.6 L187.9,183.1 L187.3,183.6 L186.7,184.1 L186.1,184.7 L185.5,185.3 L184.9,185.9 L184.4,186.5 L183.8,187.2 L183.3,187.8 L182.8,188.5 L182.2,189.1 L181.5,189.4 L180.6,189.6 L179.8,189.8 L179.0,190.1 L178.2,190.3 L177.4,190.5 L176.6,190.8 L175.8,191.1 L175.1,191.4 L174.3,191.8 L173.6,192.2 L172.9,192.6 L172.2,193.0 L171.5,193.4 L170.9,193.9 L170.3,194.4 L169.7,195.0 L169.1,195.5 L168.5,196.1 L168.0,196.8 L167.4,197.4 L166.9,198.0 L166.4,198.7 L165.9,199.4 L165.4,200.1 L164.9,200.8 L164.5,201.5 L163.7,201.8 L162.9,202.1 L162.1,202.4 L161.3,202.7 L160.5,203.0 L159.8,203.3 L159.0,203.7 L158.2,204.0 L157.5,204.4 L156.8,204.8 L156.1,205.2 L155.4,205.7 L154.8,206.2 L154.2,206.7 L153.6,207.2 L153.0,207.8 L152.4,208.4 L151.9,209.0 L151.4,209.6 L150.9,210.3 L150.4,211.0 L149.9,211.7 L149.5,212.4 L149.0,213.1 L148.6,213.8 L148.2,214.6 L147.8,215.3 L147.1,215.7 L146.3,216.1 L145.5,216.4 L144.8,216.8 L144.0,217.1 L143.3,217.5 L142.5,217.9 L141.8,218.3 L141.1,218.8 L140.4,219.3 L139.8,219.7 L139.2,220.3 L138.5,220.8 L138.0,221.3 L137.4,221.9 L136.9,222.5 L136.4,223.2 L135.9,223.8 L135.4,224.5 L135.0,225.2 L134.5,225.9 L134.1,226.7 L133.8,227.4 L133.4,228.2 L133.0,228.9 L132.7,229.7 L132.3,230.5 L131.7,231.0 L130.9,231.4 L130.2,231.8 L129.4,232.2 L128.7,232.6 L128.0,233.1 L127.3,233.5 L126.6,234.0 L126.0,234.5 L125.3,235.0 L124.7,235.5 L124.1,236.1 L123.6,236.7 L123.0,237.3 L122.5,237.9 L122.1,238.6 L121.6,239.2 L121.2,239.9 L120.8,240.7 L120.4,241.4 L120.0,242.1 L119.7,242.9 L119.3,243.7 L119.0,244.4 L118.7,245.2 L118.4,246.0 L118.2,246.8 L117.6,247.4 L116.9,247.9 L116.2,248.3 L115.5,248.8 L114.8,249.3 L114.1,249.8 L113.4,250.3 L112.8,250.8 L112.2,251.4 L111.6,251.9 L111.0,252.5 L110.5,253.1 L110.0,253.8 L109.5,254.4 L109.0,255.1 L108.6,255.8 L108.2,256.5 L107.8,257.2 L107.5,257.9 L107.1,258.7 L106.8,259.5 L106.6,260.3 L106.3,261.1 L106.1,261.9 L105.8,262.7 L105.6,263.5 L105.4,264.3 L104.9,264.9 L104.2,265.5 L103.5,266.0 L102.9,266.5 L102.2,267.0 L101.6,267.6 L101.0,268.2 L100.4,268.7 L99.8,269.3 L99.3,270.0 L98.8,270.6 L98.3,271.2 L97.8,271.9 L97.4,272.6 L97.0,273.3 L96.6,274.0 L96.2,274.7 L95.9,275.5 L95.6,276.3 L95.4,277.1 L95.1,277.8 L94.9,278.7 L94.7,279.5 L94.6,280.3 L94.4,281.1 L94.2,282.0 L94.1,282.8 L93.6,283.5 L93.0,284.0 L92.4,284.6 L91.8,285.2 L91.2,285.8 L90.6,286.4 L90.0,287.0 L89.5,287.6 L89.0,288.3 L88.5,288.9 L88.0,289.6 L87.6,290.3 L87.2,291.0 L86.8,291.7 L86.5,292.5 L86.2,293.2 L85.9,294.0 L85.6,294.8 L85.4,295.6 L85.2,296.4 L85.0,297.2 L84.9,298.0 L84.8,298.8 L84.7,299.7 L84.6,300.5 L84.5,301.3 L84.4,302.2 L84.1,302.9 L83.5,303.5 L82.9,304.2 L82.4,304.8 L81.8,305.5 L81.3,306.1 L80.8,306.8 L80.3,307.4 L79.8,308.1 L79.4,308.8 L79.0,309.5 L78.6,310.3 L78.3,311.0 L78.0,311.7 L77.7,312.5 L77.4,313.3 L77.2,314.1 L77.1,314.9 L76.9,315.7 L76.8,316.5 L76.7,317.3 L76.6,318.1 L76.6,319.0 L76.5,319.8 L76.5,320.7 L76.5,321.5 L76.5,322.4 L76.2,323.1 L75.7,323.8 L75.2,324.5 L74.7,325.1 L74.2,325.8 L73.7,326.5 L73.3,327.2 L72.8,327.9 L72.4,328.7 L72.1,329.4 L71.7,330.1 L71.4,330.9 L71.1,331.6 L70.9,332.4 L70.7,333.2 L70.5,334.0 L70.3,334.8 L70.2,335.6 L70.1,336.4 L70.1,337.2 L70.1,338.1 L70.0,338.9 L70.1,339.7 L70.1,340.6 L70.1,341.4 L70.2,342.3 L70.3,343.1 L70.1,343.9 L69.6,344.6 L69.2,345.3 L68.7,346.0 L68.3,346.7 L67.9,347.5 L67.5,348.2 L67.1,348.9 L66.8,349.7 L66.4,350.4 L66.2,351.2 L65.9,352.0 L65.7,352.8 L65.5,353.5 L65.3,354.3 L65.2,355.1 L65.1,355.9 L65.1,356.7 L65.1,357.6 L65.1,358.4 L65.1,359.2 L65.2,360.0 L65.2,360.9 L65.3,361.7 L65.4,362.5 L65.6,363.4 L65.7,364.2 L65.6,365.0 L65.2,365.8 L64.8,366.5 L64.4,367.2 L64.0,368.0 L63.6,368.7 L63.3,369.5 L63.0,370.3 L62.7,371.0 L62.4,371.8 L62.2,372.6 L62.0,373.4 L61.8,374.2 L61.7,375.0 L61.6,375.8 L61.5,376.6 L61.5,377.4 L61.5,378.2 L61.5,379.0 L61.6,379.8 L61.7,380.6 L61.8,381.5 L61.9,382.3 L62.1,383.1 L62.2,383.9 L62.4,384.8 L62.6,385.6 L62.6,386.4 L62.2,387.1 L61.8,387.9 L61.5,388.7 L61.2,389.5 L60.9,390.2 L60.6,391.0 L60.3,391.8 L60.1,392.6 L59.9,393.4 L59.7,394.1 L59.5,394.9 L59.4,395.7 L59.3,396.5 L59.3,397.3 L59.3,398.1 L59.3,398.9 L59.3,399.8 L59.4,400.6 L59.5,401.4 L59.7,402.2 L59.8,403.0 L60.0,403.8 L60.2,404.6 L60.4,405.4 L60.6,406.3 L60.9,407.1 L60.9,407.9 L60.6,408.6 L60.3,409.4 L60.0,410.2 L59.7,411.0 L59.4,411.8 L59.2,412.6 L59.0,413.4 L58.8,414.2 L58.6,415.0 L58.5,415.8 L58.4,416.6 L58.3,417.4 L58.2,418.2 L58.2,419.0 L58.3,419.8 L58.3,420.6 L58.4,421.4 L58.5,422.2 L58.7,423.0 L58.9,423.8 L59.1,424.6 L59.3,425.4 L59.5,426.2 L59.8,427.0 L60.1,427.8 L60.4,428.6 L60.4,429.4 L60.2,430.2 L59.9,431.0 L59.7,431.8 L59.4,432.6 L59.2,433.4 L59.0,434.2 L58.8,435.0 L58.6,435.8 L58.5,436.6 L58.4,437.4 L58.3,438.2 L58.3,439.0 L58.3,439.8 L58.3,440.6 L58.4,441.4 L58.5,442.2 L58.6,443.0 L58.8,443.8 L59.0,444.6 L59.2,445.3 L59.4,446.1 L59.7,446.9 L60.0,447.7 L60.3,448.5 L60.6,449.3 L60.9,450.1 L61.1,450.8 L60.8,451.7 L60.6,452.5 L60.4,453.3 L60.2,454.1 L60.0,454.9 L59.8,455.7 L59.7,456.5 L59.5,457.3 L59.4,458.1 L59.4,458.9 L59.3,459.7 L59.3,460.5 L59.4,461.3 L59.4,462.1 L59.5,462.9 L59.7,463.7 L59.8,464.5 L60.0,465.3 L60.3,466.1 L60.5,466.8 L60.8,467.6 L61.1,468.4 L61.4,469.2 L61.7,469.9 L62.1,470.7 L62.4,471.5 L62.6,472.3 L62.4,473.1 L62.2,473.9 L62.0,474.7 L61.8,475.5 L61.7,476.3 L61.5,477.1 L61.4,478.0 L61.3,478.8 L61.3,479.6 L61.2,480.4 L61.2,481.2 L61.3,482.0 L61.3,482.8 L61.4,483.6 L61.5,484.4 L61.7,485.1 L61.9,485.9 L62.1,486.7 L62.4,487.5 L62.6,488.2 L63.0,489.0 L63.3,489.8 L63.6,490.5 L64.0,491.3 L64.3,492.0 L64.7,492.8 L65.0,493.6 L64.8,494.4 L64.6,495.2 L64.5,496.0 L64.3,496.8 L64.2,497.7 L64.1,498.5 L64.0,499.3 L63.9,500.1 L63.9,500.9 L63.9,501.7 L63.9,502.5 L63.9,503.3 L64.0,504.1 L64.2,504.9 L64.3,505.7 L64.5,506.5 L64.7,507.2 L65.0,508.0 L65.2,508.8 L65.5,509.5 L65.8,510.3 L66.2,511.0 L66.6,511.8 L66.9,512.5 L67.3,513.3 L67.7,514.0 L68.0,514.7 L67.9,515.6 L67.7,516.4 L67.6,517.2 L67.5,518.0 L67.4,518.9 L67.3,519.7 L67.2,520.5 L67.2,521.3 L67.2,522.1 L67.2,522.9 L67.2,523.7 L67.3,524.5 L67.4,525.3 L67.5,526.1 L67.7,526.9 L67.9,527.6 L68.2,528.4 L68.4,529.2 L68.7,529.9 L69.0,530.7 L69.4,531.4 L69.7,532.2 L70.1,532.9 L70.5,533.6 L70.9,534.4 L71.3,535.1 L71.7,535.8 L71.6,536.7 L71.4,537.5 L71.3,538.3 L71.2,539.1 L71.1,540.0 L71.1,540.8 L71.0,541.6 L71.0,542.4 L71.0,543.2 L71.0,544.0 L71.1,544.8 L71.2,545.6 L71.3,546.4 L71.5,547.2 L71.7,547.9 L71.9,548.7 L72.1,549.5 L72.4,550.2 L72.7,551.0 L73.1,551.7 L73.4,552.4 L73.8,553.2 L74.2,553.9 L74.6,554.6 L75.0,555.3 L75.5,556.1 L75.9,556.8 L75.7,557.6 L75.6,558.4 L75.5,559.3 L75.5,560.1 L75.4,560.9 L75.3,561.7 L75.3,562.6 L75.3,563.4 L75.3,564.2 L75.4,565.0 L75.5,565.8 L75.6,566.6 L75.7,567.3 L75.9,568.1 L76.1,568.9 L76.3,569.6 L76.6,570.4 L76.9,571.1 L77.2,571.9 L77.6,572.6 L77.9,573.3 L78.3,574.1 L78.7,574.8 L79.2,575.5 L79.6,576.2 L80.0,576.9 L80.5,577.6 L80.4,578.5 L80.3,579.3 L80.2,580.1 L80.1,581.0 L80.1,581.8 L80.0,582.6 L80.0,583.4 L80.0,584.2 L80.1,585.0 L80.1,585.8 L80.2,586.6 L80.3,587.4 L80.5,588.2 L80.7,589.0 L80.9,589.7 L81.1,590.5 L81.4,591.2 L81.7,592.0 L82.1,592.7 L82.4,593.4 L82.8,594.2 L83.2,594.9 L83.6,595.6 L84.1,596.3 L84.5,597.0 L85.0,597.7 L85.4,598.4 L85.4,599.2 L85.3,600.1 L85.2,600.9 L85.2,601.7 L85.1,602.6 L85.1,603.4 L85.1,604.2 L85.1,605.0 L85.2,605.8 L85.3,606.6 L85.4,607.4 L85.5,608.2 L85.7,608.9 L85.9,609.7 L86.2,610.4 L86.5,611.2 L86.8,611.9 L87.1,612.6 L87.5,613.4 L87.9,614.1 L88.4,614.8 L88.8,615.5 L89.3,616.2 L89.7,616.9 L90.2,617.6 L90.6,618.3 L91.1,619.0 L91.1,619.8 L91.1,620.6 L91.2,621.4 L91.2,622.2 L91.3,623.0 L91.4,623.8 L91.6,624.6 L91.8,625.3 L92.0,626.1 L92.2,626.8 L92.4,627.6 L92.7,628.3 L93.0,629.1 L93.3,629.8 L93.6,630.6 L93.9,631.3 L94.2,632.0 L94.6,632.7 L94.9,633.5 L95.2,634.2 L95.6,634.9 L95.9,635.7 L96.2,636.4 L96.5,637.1 L96.8,637.9 L97.1,638.6 L97.4,639.3 L97.7,640.1 L97.9,640.8 L98.2,641.6 L98.5,642.3 L98.8,643.1 L99.1,643.8 L99.3,644.5 L99.6,645.3 L99.9,646.0 L100.2,646.7 L100.5,647.5 L100.8,648.2 L101.1,648.9 L101.4,649.7 L101.7,650.4 L102.0,651.2 L102.3,651.9 L102.6,652.6 L102.9,653.4 L103.2,654.1 L103.5,654.8 L103.8,655.6 A1.5,1.5 0 0 0 106.7,654.7 L106.7,654.7 L106.6,654.0 L106.5,653.2 L106.4,652.4 L106.3,651.6 L106.1,650.8 L106.0,650.0 L105.9,649.3 L105.8,648.5 L105.6,647.7 L105.5,646.9 L105.4,646.1 L105.3,645.3 L105.1,644.6 L105.0,643.8 L104.9,643.0 L104.8,642.2 L104.6,641.4 L104.5,640.7 L104.4,639.9 L104.3,639.1 L104.1,638.3 L104.0,637.5 L103.8,636.8 L103.6,636.0 L103.4,635.2 L103.3,634.5 L103.2,633.7 L103.1,632.9 L103.0,632.1 L103.0,631.3 L102.9,630.5 L102.8,629.7 L102.8,628.9 L102.7,628.1 L102.6,627.3 L102.6,626.5 L102.5,625.7 L102.4,624.9 L102.3,624.2 L102.1,623.4 L102.0,622.6 L101.8,621.8 L101.6,621.1 L101.4,620.3 L101.1,619.6 L100.9,618.8 L100.6,618.1 L100.2,617.4 L99.9,616.7 L99.5,616.0 L99.1,615.2 L98.7,614.5 L98.8,613.7 L98.8,612.9 L98.9,612.1 L99.0,611.2 L99.0,610.4 L99.1,609.6 L99.1,608.8 L99.1,607.9 L99.1,607.1 L99.1,606.3 L99.0,605.5 L98.9,604.8 L98.7,604.0 L98.6,603.2 L98.3,602.5 L98.1,601.7 L97.8,601.0 L97.5,600.3 L97.2,599.5 L96.8,598.8 L96.4,598.1 L96.0,597.4 L95.6,596.7 L95.2,596.0 L94.7,595.3 L94.3,594.6 L93.8,593.9 L93.9,593.1 L94.0,592.2 L94.0,591.4 L94.1,590.6 L94.1,589.8 L94.2,589.0 L94.2,588.2 L94.2,587.3 L94.2,586.6 L94.1,585.8 L94.0,585.0 L93.9,584.2 L93.7,583.4 L93.6,582.7 L93.3,581.9 L93.1,581.2 L92.8,580.4 L92.5,579.7 L92.2,579.0 L91.9,578.2 L91.5,577.5 L91.1,576.8 L90.7,576.1 L90.3,575.4 L89.8,574.7 L89.4,574.0 L88.9,573.3 L89.0,572.5 L89.1,571.6 L89.2,570.8 L89.3,570.0 L89.3,569.2 L89.4,568.4 L89.4,567.5 L89.4,566.7 L89.4,565.9 L89.3,565.2 L89.3,564.4 L89.2,563.6 L89.0,562.8 L88.9,562.0 L88.7,561.3 L88.5,560.5 L88.2,559.8 L87.9,559.1 L87.6,558.3 L87.3,557.6 L86.9,556.9 L86.5,556.1 L86.1,555.4 L85.7,554.7 L85.3,554.0 L84.9,553.3 L84.4,552.6 L84.5,551.8 L84.6,550.9 L84.7,550.1 L84.8,549.3 L84.9,548.5 L84.9,547.7 L85.0,546.9 L85.0,546.1 L85.0,545.3 L85.0,544.5 L84.9,543.7 L84.9,542.9 L84.7,542.1 L84.6,541.4 L84.4,540.6 L84.2,539.8 L84.0,539.1 L83.7,538.4 L83.4,537.6 L83.1,536.9 L82.7,536.1 L82.4,535.4 L82.0,534.7 L81.6,534.0 L81.2,533.2 L80.8,532.5 L80.4,531.8 L80.4,531.0 L80.6,530.2 L80.7,529.4 L80.8,528.5 L80.9,527.7 L81.0,526.9 L81.1,526.1 L81.1,525.3 L81.1,524.5 L81.1,523.7 L81.1,522.9 L81.0,522.2 L80.9,521.4 L80.8,520.6 L80.6,519.9 L80.4,519.1 L80.2,518.3 L80.0,517.6 L79.7,516.8 L79.4,516.1 L79.1,515.4 L78.7,514.6 L78.4,513.9 L78.0,513.2 L77.6,512.4 L77.2,511.7 L76.8,511.0 L76.9,510.2 L77.0,509.3 L77.2,508.5 L77.3,507.7 L77.5,506.9 L77.6,506.1 L77.7,505.3 L77.7,504.5 L77.8,503.7 L77.8,502.9 L77.8,502.1 L77.7,501.4 L77.7,500.6 L77.6,499.8 L77.4,499.0 L77.3,498.3 L77.1,497.5 L76.8,496.8 L76.6,496.0 L76.3,495.2 L76.0,494.5 L75.7,493.8 L75.4,493.0 L75.0,492.3 L74.7,491.5 L74.3,490.8 L73.9,490.0 L74.0,489.3 L74.1,488.4 L74.3,487.6 L74.5,486.8 L74.6,486.0 L74.8,485.2 L74.9,484.4 L75.0,483.6 L75.1,482.8 L75.1,482.0 L75.1,481.3 L75.1,480.5 L75.1,479.7 L75.0,478.9 L74.9,478.2 L74.7,477.4 L74.6,476.6 L74.4,475.9 L74.2,475.1 L73.9,474.3 L73.6,473.6 L73.4,472.8 L73.0,472.1 L72.7,471.3 L72.4,470.6 L72.0,469.8 L71.7,469.1 L71.8,468.3 L72.0,467.5 L72.2,466.7 L72.4,465.9 L72.6,465.1 L72.7,464.3 L72.9,463.5 L73.0,462.7 L73.1,461.9 L73.2,461.1 L73.2,460.3 L73.2,459.6 L73.2,458.8 L73.2,458.0 L73.1,457.2 L73.0,456.5 L72.9,455.7 L72.7,454.9 L72.5,454.2 L72.3,453.4 L72.1,452.6 L71.8,451.9 L71.5,451.1 L71.2,450.3 L70.9,449.6 L70.6,448.8 L70.3,448.0 L70.4,447.3 L70.6,446.5 L70.9,445.7 L71.1,444.9 L71.3,444.1 L71.5,443.3 L71.7,442.5 L71.8,441.7 L72.0,441.0 L72.1,440.2 L72.2,439.4 L72.2,438.6 L72.3,437.8 L72.2,437.1 L72.2,436.3 L72.1,435.5 L72.0,434.8 L71.9,434.0 L71.8,433.2 L71.6,432.4 L71.4,431.7 L71.1,430.9 L70.9,430.1 L70.7,429.3 L70.4,428.6 L70.1,427.8 L69.8,427.0 L69.9,426.2 L70.2,425.4 L70.5,424.7 L70.7,423.9 L71.0,423.1 L71.2,422.3 L71.5,421.6 L71.7,420.8 L71.8,420.0 L72.0,419.2 L72.1,418.5 L72.2,417.7 L72.3,416.9 L72.3,416.2 L72.3,415.4 L72.3,414.6 L72.2,413.8 L72.1,413.1 L72.0,412.3 L71.9,411.5 L71.7,410.7 L71.5,409.9 L71.3,409.1 L71.1,408.4 L70.9,407.6 L70.7,406.8 L70.4,406.0 L70.5,405.2 L70.9,404.5 L71.2,403.7 L71.5,402.9 L71.8,402.2 L72.1,401.4 L72.3,400.7 L72.6,399.9 L72.8,399.1 L73.0,398.4 L73.1,397.6 L73.3,396.9 L73.4,396.1 L73.5,395.3 L73.5,394.6 L73.5,393.8 L73.5,393.0 L73.5,392.2 L73.4,391.4 L73.3,390.7 L73.2,389.9 L73.1,389.1 L72.9,388.3 L72.7,387.5 L72.6,386.7 L72.4,385.9 L72.2,385.1 L72.3,384.3 L72.7,383.6 L73.1,382.8 L73.4,382.1 L73.8,381.4 L74.1,380.6 L74.4,379.9 L74.7,379.1 L75.0,378.4 L75.2,377.7 L75.4,376.9 L75.6,376.2 L75.8,375.4 L75.9,374.6 L76.0,373.9 L76.0,373.1 L76.1,372.3 L76.1,371.6 L76.1,370.8 L76.0,370.0 L76.0,369.2 L75.9,368.4 L75.8,367.6 L75.7,366.8 L75.6,366.0 L75.4,365.2 L75.3,364.4 L75.5,363.6 L75.9,362.9 L76.3,362.2 L76.7,361.5 L77.1,360.8 L77.5,360.1 L77.8,359.3 L78.2,358.6 L78.5,357.9 L78.8,357.2 L79.0,356.4 L79.3,355.7 L79.5,355.0 L79.7,354.2 L79.8,353.5 L80.0,352.7 L80.0,351.9 L80.1,351.2 L80.2,350.4 L80.2,349.6 L80.2,348.8 L80.1,348.0 L80.1,347.2 L80.1,346.4 L80.0,345.6 L79.9,344.8 L79.8,344.0 L80.0,343.2 L80.5,342.5 L81.0,341.9 L81.4,341.2 L81.9,340.5 L82.3,339.8 L82.7,339.1 L83.1,338.5 L83.5,337.8 L83.8,337.1 L84.2,336.4 L84.5,335.6 L84.7,334.9 L85.0,334.2 L85.2,333.5 L85.4,332.7 L85.5,332.0 L85.6,331.2 L85.8,330.4 L85.8,329.6 L85.9,328.8 L85.9,328.1 L86.0,327.2 L86.0,326.4 L86.0,325.6 L86.0,324.8 L86.0,324.0 L86.2,323.3 L86.7,322.6 L87.2,322.0 L87.7,321.3 L88.2,320.7 L88.7,320.1 L89.2,319.4 L89.6,318.8 L90.1,318.1 L90.5,317.5 L90.9,316.8 L91.2,316.1 L91.6,315.4 L91.9,314.7 L92.1,314.0 L92.4,313.3 L92.6,312.5 L92.8,311.8 L93.0,311.0 L93.1,310.2 L93.2,309.5 L93.3,308.7 L93.4,307.9 L93.5,307.1 L93.6,306.3 L93.6,305.4 L93.7,304.6 L94.0,303.9 L94.6,303.3 L95.1,302.7 L95.7,302.2 L96.3,301.6 L96.8,301.0 L97.3,300.4 L97.8,299.8 L98.3,299.1 L98.8,298.5 L99.2,297.9 L99.6,297.2 L100.0,296.6 L100.4,295.9 L100.7,295.2 L101.0,294.5 L101.3,293.8 L101.6,293.1 L101.8,292.3 L102.0,291.6 L102.2,290.8 L102.4,290.0 L102.6,289.2 L102.7,288.5 L102.9,287.7 L103.0,286.8 L103.1,286.0 L103.5,285.3 L104.1,284.8 L104.7,284.3 L105.3,283.7 L105.9,283.2 L106.5,282.6 L107.1,282.1 L107.6,281.5 L108.2,281.0 L108.7,280.4 L109.2,279.8 L109.7,279.2 L110.1,278.5 L110.5,277.9 L110.9,277.2 L111.3,276.6 L111.6,275.9 L112.0,275.2 L112.3,274.5 L112.5,273.7 L112.8,273.0 L113.0,272.2 L113.3,271.5 L113.5,270.7 L113.7,269.9 L113.9,269.1 L114.1,268.3 L114.5,267.6 L115.1,267.1 L115.8,266.7 L116.5,266.2 L117.1,265.7 L117.7,265.2 L118.4,264.7 L119.0,264.2 L119.6,263.6 L120.1,263.1 L120.7,262.6 L121.2,262.0 L121.7,261.4 L122.2,260.8 L122.6,260.2 L123.0,259.5 L123.4,258.9 L123.8,258.2 L124.2,257.5 L124.5,256.8 L124.8,256.1 L125.1,255.3 L125.4,254.6 L125.7,253.8 L126.0,253.1 L126.3,252.3 L126.5,251.5 L126.9,250.9 L127.6,250.4 L128.3,250.0 L129.0,249.6 L129.7,249.1 L130.4,248.7 L131.1,248.3 L131.7,247.8 L132.3,247.3 L132.9,246.8 L133.5,246.3 L134.1,245.8 L134.6,245.3 L135.2,244.7 L135.7,244.1 L136.1,243.5 L136.6,242.9 L137.0,242.3 L137.4,241.6 L137.8,240.9 L138.2,240.2 L138.6,239.5 L138.9,238.8 L139.3,238.1 L139.6,237.3 L140.0,236.6 L140.3,235.8 L140.7,235.2 L141.5,234.8 L142.2,234.4 L142.9,234.1 L143.6,233.7 L144.3,233.3 L145.0,232.9 L145.7,232.5 L146.4,232.1 L147.0,231.7 L147.7,231.2 L148.3,230.7 L148.9,230.2 L149.4,229.7 L150.0,229.2 L150.5,228.6 L151.0,228.0 L151.5,227.4 L152.0,226.8 L152.4,226.2 L152.9,225.5 L153.3,224.8 L153.7,224.2 L154.1,223.5 L154.5,222.8 L154.9,222.0 L155.3,221.3 L155.8,220.7 L156.5,220.4 L157.3,220.1 L158.0,219.8 L158.8,219.5 L159.5,219.1 L160.2,218.8 L161.0,218.5 L161.7,218.1 L162.3,217.7 L163.0,217.3 L163.6,216.9 L164.3,216.5 L164.9,216.0 L165.5,215.5 L166.0,215.0 L166.6,214.5 L167.1,213.9 L167.7,213.3 L168.2,212.7 L168.7,212.1 L169.1,211.5 L169.6,210.8 L170.1,210.2 L170.5,209.5 L171.0,208.8 L171.4,208.1 L171.9,207.5 L172.7,207.3 L173.5,207.0 L174.3,206.8 L175.1,206.5 L175.8,206.3 L176.6,206.0 L177.3,205.7 L178.0,205.4 L178.8,205.1 L179.5,204.8 L180.1,204.4 L180.8,204.0 L181.4,203.6 L182.1,203.2 L182.7,202.7 L183.3,202.2 L183.9,201.7 L184.4,201.2 L185.0,200.6 L185.5,200.1 L186.1,199.5 L186.6,198.9 L187.1,198.2 L187.6,197.6 L188.1,197.0 L188.6,196.3 L189.2,195.7 L190.0,195.6 L190.8,195.4 L191.6,195.2 L192.4,195.0 L193.2,194.8 L193.9,194.6 L194.7,194.4 L195.4,194.2 L196.2,193.9 L196.9,193.6 L197.6,193.3 L198.3,193.0 L199.0,192.6 L199.7,192.2 L200.3,191.8 L200.9,191.4 L201.6,190.9 L202.2,190.4 L202.8,189.9 L203.4,189.4 L203.9,188.9 L204.5,188.3 L205.1,187.7 L205.6,187.1 L206.2,186.5 L206.7,185.9 L207.3,185.4 L208.1,185.3 L209.0,185.1 L209.8,185.0 L210.6,184.9 L211.4,184.8 L212.2,184.6 L212.9,184.5 L213.7,184.3 L214.5,184.1 L215.2,183.8 L215.9,183.6 L216.7,183.3 L217.4,183.0 L218.1,182.7 L218.7,182.3 L219.4,181.9 L220.1,181.5 L220.7,181.1 L221.3,180.6 L222.0,180.1 L222.6,179.6 L223.2,179.1 L223.8,178.6 L224.4,178.0 L225.0,177.5 L225.6,176.9 L226.2,176.4 L227.1,176.3 L227.9,176.3 L228.7,176.2 L229.5,176.2 L230.3,176.1 L231.1,176.0 L231.9,175.9 L232.7,175.8 L233.4,175.6 L234.2,175.5 L235.0,175.3 L235.7,175.0 L236.4,174.8 L237.1,174.5 L237.8,174.2 L238.5,173.9 L239.2,173.5 L239.9,173.1 L240.6,172.7 L241.2,172.3 L241.9,171.8 L242.5,171.3 L243.2,170.8 L243.8,170.3 L244.5,169.8 L245.1,169.3 L245.7,168.8 L246.6,168.8 L247.4,168.8 L248.2,168.8 L249.0,168.8 L249.8,168.8 L250.6,168.8 L251.4,168.7 L252.2,168.6 L253.0,168.6 L253.8,168.4 L254.5,168.3 L255.3,168.1 L256.0,167.9 L256.8,167.7 L257.5,167.4 L258.2,167.1 L258.9,166.8 L259.6,166.5 L260.3,166.1 L261.0,165.7 L261.7,165.3 L262.4,164.9 L263.1,164.4 L263.7,164.0 L264.4,163.5 L265.1,163.0 L265.8,162.6 L266.6,162.6 L267.4,162.7 L268.2,162.7 L269.0,162.8 L269.8,162.8 L270.6,162.9 L271.4,162.9 L272.2,162.8 L273.0,162.8 L273.8,162.7 L274.6,162.6 L275.3,162.5 L276.1,162.4 L276.8,162.2 L277.6,162.0 L278.3,161.7 L279.1,161.5 L279.8,161.2 L280.5,160.9 L281.2,160.5 L281.9,160.1 L282.6,159.8 L283.3,159.4 L284.0,158.9 L284.7,158.5 L285.4,158.1 L286.1,157.7 L287.0,157.8 L287.8,157.9 L288.6,158.0 L289.4,158.1 L290.2,158.2 L291.0,158.2 L291.8,158.3 L292.6,158.3 L293.4,158.3 L294.2,158.3 L294.9,158.3 L295.7,158.2 L296.5,158.1 L297.2,158.0 L298.0,157.8 L298.7,157.6 L299.5,157.4 L300.2,157.2 L301.0,156.9 L301.7,156.6 L302.4,156.3 L303.2,155.9 L303.9,155.6 L304.6,155.2 L305.4,154.8 L306.1,154.4 L306.8,154.0 L307.6,154.2 L308.4,154.3 L309.2,154.5 L310.0,154.6 L310.8,154.8 L311.6,154.9 L312.4,155.0 L313.2,155.1 L314.0,155.1 L314.8,155.2 L315.6,155.2 L316.3,155.1 L317.1,155.1 L317.9,155.0 L318.6,154.9 L319.4,154.8 L320.2,154.6 L320.9,154.4 L321.7,154.1 L322.4,153.9 L323.2,153.6 L323.9,153.3 L324.7,153.0 L325.4,152.7 L326.2,152.4 L326.9,152.0 L327.7,151.7 L328.5,151.8 L329.3,152.0 L330.1,152.2 L330.8,152.4 L331.6,152.6 L332.4,152.8 L333.2,152.9 L334.0,153.1 L334.8,153.2 L335.6,153.3 L336.3,153.3 L337.1,153.3 L337.9,153.3 L338.7,153.3 L339.4,153.2 L340.2,153.1 L341.0,153.0 L341.7,152.8 L342.5,152.7 L343.3,152.4 L344.0,152.2 L344.8,152.0 L345.6,151.7 L346.3,151.4 L347.1,151.1 L347.9,150.8 L348.6,150.5 L349.4,150.7 L350.2,151.0 L351.0,151.2 L351.8,151.5 L352.5,151.7 L353.3,151.9 L354.1,152.1 L354.9,152.3 L355.6,152.4 L356.4,152.6 L357.2,152.7 L358.0,152.7 L358.7,152.8 L359.5,152.8 L360.3,152.8 L361.1,152.7 L361.8,152.6 L362.6,152.5 L363.4,152.3 L364.2,152.1 L364.9,151.9 L365.7,151.8 L366.5,151.6 L367.3,151.5 L368.1,151.4 L368.8,151.4 L369.6,151.4 L370.4,151.6 L371.1,151.7 L371.9,151.8 L372.7,151.9 L373.5,151.9 L374.2,151.9 L375.0,152.0 L375.8,152.0 L376.6,152.1 Z"/>
<path d="M383.8,215.6 L383.0,215.6 L382.2,215.7 L381.4,215.7 L380.7,215.7 L379.9,215.7 L379.1,215.7 L378.3,215.8 L377.5,215.8 L376.8,215.8 L376.0,215.8 L375.2,215.8 L374.4,215.9 L373.6,215.9 L372.9,215.9 L372.1,215.9 L371.3,215.9 L370.5,215.9 L369.7,216.0 L369.0,216.0 L368.2,216.0 L367.4,216.0 L366.6,216.0 L365.8,216.0 L365.0,216.0 L364.3,216.0 L363.5,216.1 L362.7,216.1 L361.9,216.1 L361.1,216.1 L360.3,216.1 L359.6,216.1 L358.8,216.1 L358.0,216.1 L357.2,216.2 L356.4,216.2 L355.6,216.2 L354.9,216.2 L354.1,216.2 L353.3,216.2 L352.5,216.2 L351.7,216.2 L350.9,216.3 L350.1,216.3 L349.4,216.3 L348.6,216.3 L347.8,216.3 L347.0,216.3 L346.2,216.3 L345.4,216.4 L344.6,216.4 L343.9,216.4 L343.1,216.4 L342.3,216.4 L341.5,216.4 L340.7,216.5 L339.9,216.5 L339.1,216.5 L338.3,216.5 L337.6,216.6 L336.8,216.6 L336.0,216.6 L335.2,216.6 L334.4,216.6 L333.6,216.7 L332.8,216.7 L332.0,216.7 L331.2,216.8 L330.4,216.8 L329.7,216.8 L328.9,216.8 L328.1,216.9 L327.3,216.9 L326.5,216.9 L325.7,217.0 L324.9,217.0 L324.1,217.1 L323.3,217.1 L322.5,217.1 L321.8,217.2 L321.0,217.2 L320.2,217.3 L319.4,217.3 L318.6,217.4 L317.8,217.4 L317.0,217.5 L316.2,217.5 L315.4,217.6 L314.6,217.6 L313.8,217.7 L313.1,217.7 L312.3,217.8 L311.5,217.9 L310.7,217.9 L309.9,218.0 L309.1,218.0 L308.3,218.1 L307.5,218.2 L306.7,218.2 L305.9,218.3 L305.1,218.4 L304.3,218.5 L303.6,218.5 L302.8,218.6 L302.0,218.7 L301.2,218.8 L300.4,218.9 L299.6,219.0 L298.8,219.1 L298.0,219.1 L297.2,219.2 L296.4,219.3 L295.6,219.4 L294.8,219.5 L294.1,219.6 L293.3,219.7 L292.5,219.8 L291.7,219.9 L290.9,220.1 L290.1,220.2 L289.3,220.3 L288.5,220.4 L287.7,220.5 L286.9,220.6 L286.1,220.8 L285.4,220.9 L284.6,221.0 L283.8,221.2 L283.0,221.3 L282.2,221.4 L281.4,221.6 L280.6,221.7 L279.8,221.9 L279.1,222.0 L278.3,222.2 L277.5,222.3 L276.7,222.5 L275.9,222.6 L275.1,222.8 L274.4,222.9 L273.6,223.1 L272.8,223.3 L272.0,223.4 L271.2,223.6 L270.4,223.8 L269.7,224.0 L268.9,224.1 L268.1,224.3 L267.3,224.5 L266.5,224.7 L265.8,224.9 L265.0,225.1 L264.2,225.3 L263.4,225.5 L262.7,225.7 L261.9,225.9 L261.1,226.1 L260.3,226.3 L259.6,226.5 L258.8,226.7 L258.0,226.9 L257.2,227.2 L256.5,227.4 L255.7,227.6 L254.9,227.8 L254.2,228.1 L253.4,228.3 L252.6,228.5 L251.9,228.8 L251.1,229.0 L250.3,229.3 L249.6,229.5 L248.8,229.8 L248.1,230.0 L247.3,230.3 L246.5,230.5 L245.8,230.8 L245.0,231.1 L244.3,231.3 L243.5,231.6 L242.8,231.9 L242.0,232.2 L241.2,232.4 L240.5,232.7 L239.7,233.0 L239.0,233.3 L238.2,233.6 L237.5,233.9 L236.7,234.2 L236.0,234.5 L235.3,234.8 L234.5,235.1 L233.8,235.4 L233.0,235.7 L232.3,236.0 L231.6,236.4 L230.8,236.7 L230.1,237.0 L229.3,237.3 L228.6,237.7 L227.9,238.0 L227.1,238.3 L226.4,238.7 L225.7,239.0 L225.0,239.4 L224.2,239.7 L223.5,240.1 L222.8,240.4 L222.1,240.8 L221.4,241.2 L220.6,241.5 L219.9,241.9 L219.2,242.3 L218.5,242.7 L217.8,243.0 L217.1,243.4 L216.4,243.8 L215.7,244.2 L215.0,244.6 L214.3,245.0 L213.5,245.4 L212.8,245.8 L212.2,246.2 L211.5,246.6 L210.8,247.0 L210.1,247.4 L209.4,247.9 L208.7,248.3 L208.0,248.7 L207.3,249.1 L206.6,249.6 L206.0,250.0 L205.3,250.4 L204.6,250.9 L203.9,251.3 L203.3,251.8 L202.6,252.2 L201.9,252.7 L201.3,253.1 L200.6,253.6 L199.9,254.1 L199.3,254.5 L198.6,255.0 L198.0,255.5 L197.3,256.0 L196.7,256.4 L196.0,256.9 L195.4,257.4 L194.7,257.9 L194.1,258.4 L193.5,258.9 L192.8,259.4 L192.2,259.9 L191.6,260.4 L190.9,260.9 L190.3,261.4 L189.7,261.9 L189.1,262.4 L188.4,262.9 L187.8,263.4 L187.2,264.0 L186.6,264.5 L186.0,265.0 L185.4,265.5 L184.8,266.1 L184.2,266.6 L183.6,267.1 L183.0,267.7 L182.4,268.2 L181.8,268.8 L181.2,269.3 L180.6,269.9 L180.0,270.4 L179.4,271.0 L178.8,271.5 L178.3,272.1 L177.7,272.6 L177.1,273.2 L176.5,273.8 L176.0,274.3 L175.4,274.9 L174.8,275.5 L174.3,276.0 L173.7,276.6 L173.1,277.2 L172.6,277.8 L172.0,278.3 L171.5,278.9 L170.9,279.5 L170.4,280.1 L169.8,280.7 L169.3,281.3 L168.8,281.9 L168.2,282.5 L167.7,283.1 L167.1,283.7 L166.6,284.3 L166.1,284.9 L165.6,285.5 L165.0,286.1 L164.5,286.7 L164.0,287.3 L163.5,287.9 L163.0,288.5 L162.4,289.2 L161.9,289.8 L161.4,290.4 L160.9,291.0 L160.4,291.6 L159.9,292.3 L159.4,292.9 L158.9,293.5 L158.4,294.2 L157.9,294.8 L157.4,295.4 L157.0,296.1 L156.5,296.7 L156.0,297.3 L155.5,298.0 L155.0,298.6 L154.6,299.3 L154.1,299.9 L153.6,300.6 L153.1,301.2 L152.7,301.9 L152.2,302.5 L151.8,303.2 L151.3,303.8 L150.8,304.5 L150.4,305.2 L149.9,305.8 L149.5,306.5 L149.0,307.1 L148.6,307.8 L148.1,308.5 L147.7,309.1 L147.3,309.8 L146.8,310.5 L146.4,311.2 L146.0,311.8 L145.5,312.5 L145.1,313.2 L144.7,313.9 L144.2,314.5 L143.8,315.2 L143.4,315.9 L143.0,316.6 L142.6,317.3 L142.2,317.9 L141.7,318.6 L141.3,319.3 L140.9,320.0 L140.5,320.7 L140.1,321.4 L139.7,322.1 L139.3,322.8 L138.9,323.5 L138.5,324.2 L138.1,324.8 L137.8,325.5 L137.4,326.2 L137.0,326.9 L136.6,327.6 L136.2,328.3 L135.8,329.0 L135.5,329.7 L135.1,330.4 L134.7,331.2 L134.3,331.9 L134.0,332.6 L133.6,333.3 L133.2,334.0 L132.9,334.7 L132.5,335.4 L132.1,336.1 L131.8,336.8 L131.4,337.5 L131.1,338.2 L130.7,339.0 L130.4,339.7 L130.0,340.4 L129.7,341.1 L129.3,341.8 L129.0,342.5 L128.6,343.3 L128.3,344.0 L128.0,344.7 L127.6,345.4 L127.3,346.1 L127.0,346.9 L126.6,347.6 L126.3,348.3 L126.0,349.0 L125.6,349.8 L125.3,350.5 L125.0,351.2 L124.7,351.9 L124.3,352.7 L124.0,353.4 L123.7,354.1 L123.4,354.9 L123.1,355.6 L122.8,356.3 L122.5,357.1 L122.2,357.8 L121.8,358.5 L121.5,359.3 L121.2,360.0 L120.9,360.7 L120.6,361.5 L120.3,362.2 L120.0,362.9 L119.7,363.7 L119.4,364.4 L119.2,365.1 L118.9,365.9 L118.6,366.6 L118.3,367.4 L118.0,368.1 L117.7,368.8 L117.4,369.6 L117.1,370.3 L116.9,371.1 L116.6,371.8 L116.3,372.5 L116.0,373.3 L115.7,374.0 L115.5,374.8 L115.2,375.5 L114.9,376.3 L114.7,377.0 L114.4,377.8 L114.1,378.5 L113.8,379.2 L113.6,380.0 L113.3,380.7 L113.1,381.5 L112.8,382.2 L112.5,383.0 L112.3,383.7 L112.0,384.5 L111.8,385.2 L111.5,386.0 L111.2,386.7 L111.0,387.5 L110.7,388.2 L110.5,389.0 L110.2,389.7 L110.0,390.5 L109.7,391.2 L109.5,392.0 L109.2,392.7 L109.0,393.5 L108.8,394.2 L108.5,395.0 L108.3,395.7 L108.0,396.5 L107.8,397.2 L107.6,398.0 L107.3,398.8 L107.1,399.5 L106.8,400.3 L106.6,401.0 L106.4,401.8 L106.1,402.5 L105.9,403.3 L105.7,404.0 L105.4,404.8 L105.2,405.6 L105.0,406.3 L104.8,407.1 L104.5,407.8 L104.3,408.6 L104.1,409.4 L103.9,410.1 L103.7,410.9 L103.4,411.6 L103.2,412.4 L103.0,413.2 L102.8,413.9 L102.6,414.7 L102.4,415.4 L102.1,416.2 L101.9,417.0 L101.7,417.7 L101.5,418.5 L101.3,419.3 L101.1,420.0 L100.9,420.8 L100.7,421.6 L100.5,422.3 L100.3,423.1 L100.1,423.9 L99.9,424.6 L99.7,425.4 L99.5,426.2 L99.3,426.9 L99.1,427.7 L98.9,428.5 L98.7,429.2 L98.5,430.0 L98.4,430.8 L98.2,431.6 L98.0,432.3 L97.8,433.1 L97.6,433.9 L97.4,434.6 L97.3,435.4 L97.1,436.2 L96.9,437.0 L96.7,437.7 L96.6,438.5 L96.4,439.3 L96.2,440.1 L96.0,440.8 L95.9,441.6 L95.7,442.4 L95.6,443.2 L95.4,444.0 L95.2,444.7 L95.1,445.5 L94.9,446.3 L94.8,447.1 L94.6,447.8 L94.5,448.6 L94.3,449.4 L94.2,450.2 L94.0,451.0 L93.9,451.8 L93.7,452.5 L93.6,453.3 L93.4,454.1 L93.3,454.9 L93.2,455.7 L93.0,456.5 L92.9,457.2 L92.8,458.0 L92.6,458.8 L92.5,459.6 L92.4,460.4 L92.3,461.2 L92.1,462.0 L92.0,462.7 L91.9,463.5 L91.8,464.3 L91.7,465.1 L91.6,465.9 L91.5,466.7 L91.4,467.5 L91.3,468.3 L91.1,469.1 L91.0,469.8 L90.9,470.6 L90.9,471.4 L90.8,472.2 L90.7,473.0 L90.6,473.8 L90.5,474.6 L90.4,475.4 L90.3,476.2 L90.2,477.0 L90.1,477.8 L90.1,478.6 L90.0,479.4 L89.9,480.1 L89.9,480.9 L89.8,481.7 L89.7,482.5 L89.7,483.3 L89.6,484.1 L89.5,484.9 L89.5,485.7 L89.4,486.5 L89.4,487.3 L89.3,488.1 L89.3,488.9 L89.2,489.7 L89.2,490.5 L89.1,491.3 L89.1,492.1 L89.1,492.9 L89.0,493.7 L89.0,494.5 L89.0,495.3 L88.9,496.1 L88.9,496.9 L88.9,497.7 L88.9,498.5 L88.9,499.3 L88.8,500.1 L88.8,500.9 L88.8,501.7 L88.8,502.5 L88.8,503.3 L88.8,504.1 L88.8,504.9 L88.8,505.7 L88.8,506.5 L88.8,507.3 L88.8,508.1 L88.9,508.9 L88.9,509.7 L88.9,510.5 L88.9,511.3 L88.9,512.1 L89.0,512.9 L89.0,513.7 L89.0,514.5 L89.1,515.3 L89.1,516.1 L89.2,516.9 L89.2,517.7 L89.2,518.5 L89.3,519.3 L89.4,520.1 L89.4,520.9 L89.5,521.7 L89.5,522.5 L89.6,523.3 L89.7,524.1 L89.7,524.9 L89.8,525.7 L89.9,526.5 L90.0,527.3 L90.0,528.1 L90.1,528.9 L90.2,529.7 L90.3,530.5 L90.4,531.3 L90.5,532.1 L90.6,532.9 L90.7,533.7 L90.8,534.5 L90.9,535.2 L91.0,536.0 L91.1,536.8 L91.2,537.6 L91.3,538.4 L91.5,539.2 L91.6,540.0 L91.7,540.8 L91.8,541.6 L92.0,542.4 L92.1,543.2 L92.2,544.0 L92.4,544.7 L92.5,545.5 L92.7,546.3 L92.8,547.1 L93.0,547.9 L93.1,548.7 L93.3,549.5 L93.4,550.2 L93.6,551.0 L93.7,551.8 L93.9,552.6 L94.1,553.4 L94.2,554.2 L94.4,554.9 L94.6,555.7 L94.8,556.5 L94.9,557.3 L95.1,558.1 L95.3,558.8 L95.5,559.6 L95.7,560.4 L95.9,561.2 L96.1,562.0 L96.3,562.7 L96.5,563.5 L96.7,564.3 L96.9,565.1 L97.1,565.8 L97.3,566.6 L97.5,567.4 L97.7,568.1 L97.9,568.9 L98.1,569.7 L98.4,570.4 L98.6,571.2 L98.8,572.0 L99.1,572.8 L99.3,573.5 L99.5,574.3 L99.8,575.0 L100.0,575.8 L100.2,576.6 L100.5,577.3 L100.7,578.1 L101.0,578.9 L101.2,579.6 L101.5,580.4 L101.7,581.1 L102.0,581.9 L102.2,582.6 L102.5,583.4 L102.8,584.2 L103.0,584.9 L103.3,585.7 L103.6,586.4 L103.9,587.2 L104.1,587.9 L104.4,588.7 L104.7,589.4 L105.0,590.2 L105.3,590.9 L105.6,591.7 L105.8,592.4 L106.1,593.1 L106.4,593.9 L106.7,594.6 L107.0,595.4 L107.3,596.1 L107.6,596.8 L107.9,597.6 L108.3,598.3 L108.6,599.1 L108.9,599.8 L109.2,600.5 L109.5,601.3 L109.8,602.0 L110.1,602.7 L110.5,603.5 L110.8,604.2 L111.1,604.9 L111.5,605.6 L111.8,606.4 L112.1,607.1 L112.5,607.8 L112.8,608.5 L113.1,609.3 L113.5,610.0 L113.8,610.7 L114.2,611.4 L114.5,612.1 L114.9,612.9 L115.2,613.6 L115.6,614.3 L115.9,615.0 L116.3,615.7 L116.6,616.4 L117.0,617.1 L117.4,617.8 L117.7,618.6 L118.1,619.3 L118.5,620.0 L118.8,620.7 L119.2,621.4 L119.6,622.1 L119.9,622.8 L120.3,623.5 L120.7,624.2 L121.1,624.9 L121.5,625.6 L121.8,626.3 L122.2,627.0 L122.6,627.7 L123.0,628.4 L123.4,629.1 L123.8,629.8 L124.2,630.5 L124.6,631.1 L125.0,631.8 L125.4,632.5 L125.8,633.2 L126.2,633.9 L126.6,634.6 L127.0,635.3 L127.4,636.0 L127.8,636.6 L128.2,637.3 L128.6,638.0 L129.0,638.7 L129.4,639.4 L129.8,640.0 L130.3,640.7 L130.7,641.4 L131.1,642.1 L131.5,642.7 L131.9,643.4 L132.4,644.1 L132.8,644.8 L133.2,645.4 L133.6,646.1 L134.1,646.8 L134.5,647.4 L134.9,648.1 L135.4,648.8 L135.8,649.4 L136.2,650.1 L136.7,650.7 L137.1,651.4 L137.6,652.1 L138.0,652.7 L138.5,653.4 L138.9,654.0 L139.4,654.7 L139.8,655.3 L140.3,656.0 L140.7,656.6 L141.2,657.3 L141.7,657.9 L142.1,658.6 L142.6,659.2 L143.1,659.8 L143.5,660.5 L144.0,661.1 L144.5,661.8 L144.9,662.4 L145.4,663.0 L145.9,663.7 L146.4,664.3 L146.8,664.9 L147.3,665.6 L147.8,666.2 L148.3,666.8 L148.8,667.5 L149.2,668.1 L149.7,668.7 L150.2,669.3 L150.7,670.0 L151.2,670.6 L151.7,671.2 L152.2,671.8 L152.7,672.4 L153.2,673.1 L153.7,673.7 L154.2,674.3 L154.7,674.9 L155.2,675.5 L155.7,676.1 L156.2,676.8 L156.7,677.4 L157.2,678.0 L157.7,678.6 L158.2,679.2 L158.7,679.8 L159.2,680.4 L159.7,681.0 L160.2,681.6 L160.7,682.2 L161.2,682.8 L161.7,683.4 L162.3,684.0 L162.8,684.6 L163.3,685.2 L163.8,685.8 L164.3,686.4 L164.8,687.0 L165.4,687.6 L165.9,688.2 L166.4,688.8 L166.9,689.4 L167.5,690.0 L168.0,690.6 L168.5,691.1 L169.0,691.7 L169.6,692.3 L170.1,692.9 L170.6,693.5 L171.2,694.1 L171.7,694.6 L172.2,695.2 L172.8,695.8 L173.3,696.4 L173.8,697.0 L174.4,697.6 L174.9,698.1 L175.4,698.7 L176.0,699.3 L176.5,699.9 L177.1,700.4 L177.6,701.0 L178.1,701.6 L178.7,702.1 L179.2,702.7 L179.8,703.3 L180.3,703.9 L180.9,704.4 L181.4,705.0 L181.9,705.6 L182.5,706.1 L183.0,706.7 L183.6,707.3 L184.1,707.8 L184.7,708.4 L185.2,708.9 L185.8,709.5 L186.4,710.1 L186.9,710.6 L187.5,711.2 L188.0,711.7 L188.6,712.3 L189.1,712.9 L189.7,713.4 L190.2,714.0 L190.8,714.5 L191.4,715.1 L191.9,715.6 L192.5,716.2 A2.0,2.0 0 0 0 195.4,713.5 L195.4,713.5 L194.9,712.9 L194.4,712.3 L193.9,711.7 L193.5,711.1 L193.0,710.5 L192.5,709.9 L192.0,709.2 L191.5,708.6 L191.0,708.0 L190.5,707.4 L190.0,706.8 L189.5,706.2 L189.0,705.6 L188.5,705.0 L188.0,704.4 L187.6,703.8 L187.1,703.1 L186.6,702.5 L186.1,701.9 L185.6,701.3 L185.1,700.7 L184.6,700.1 L184.1,699.5 L183.7,698.9 L183.2,698.3 L182.7,697.6 L182.2,697.0 L181.7,696.4 L181.2,695.8 L180.8,695.2 L180.3,694.6 L179.8,693.9 L179.3,693.3 L178.8,692.7 L178.4,692.1 L177.9,691.5 L177.4,690.9 L176.9,690.2 L176.5,689.6 L176.0,689.0 L175.5,688.4 L175.0,687.8 L174.6,687.2 L174.1,686.5 L173.6,685.9 L173.1,685.3 L172.7,684.7 L172.2,684.0 L171.7,683.4 L171.3,682.8 L170.8,682.2 L170.3,681.6 L169.9,680.9 L169.4,680.3 L168.9,679.7 L168.5,679.1 L168.0,678.4 L167.5,677.8 L167.1,677.2 L166.6,676.6 L166.1,675.9 L165.7,675.3 L165.2,674.7 L164.8,674.0 L164.3,673.4 L163.9,672.8 L163.4,672.2 L162.9,671.5 L162.5,670.9 L162.0,670.3 L161.6,669.6 L161.1,669.0 L160.7,668.4 L160.2,667.7 L159.8,667.1 L159.3,666.5 L158.9,665.8 L158.4,665.2 L158.0,664.6 L157.5,663.9 L157.1,663.3 L156.7,662.6 L156.2,662.0 L155.8,661.4 L155.3,660.7 L154.9,660.1 L154.4,659.5 L154.0,658.8 L153.6,658.2 L153.1,657.5 L152.7,656.9 L152.3,656.2 L151.8,655.6 L151.4,655.0 L151.0,654.3 L150.5,653.7 L150.1,653.0 L149.7,652.4 L149.2,651.7 L148.8,651.1 L148.4,650.5 L148.0,649.8 L147.5,649.2 L147.1,648.5 L146.7,647.9 L146.3,647.2 L145.8,646.6 L145.4,645.9 L145.0,645.3 L144.6,644.6 L144.2,644.0 L143.7,643.3 L143.3,642.7 L142.9,642.0 L142.5,641.4 L142.1,640.7 L141.6,640.1 L141.2,639.4 L140.8,638.8 L140.4,638.1 L140.0,637.4 L139.6,636.8 L139.2,636.1 L138.8,635.5 L138.4,634.8 L138.0,634.2 L137.6,633.5 L137.2,632.8 L136.8,632.2 L136.4,631.5 L136.0,630.8 L135.6,630.2 L135.2,629.5 L134.8,628.8 L134.4,628.2 L134.0,627.5 L133.6,626.8 L133.2,626.2 L132.9,625.5 L132.5,624.8 L132.1,624.2 L131.7,623.5 L131.3,622.8 L131.0,622.1 L130.6,621.5 L130.2,620.8 L129.9,620.1 L129.5,619.4 L129.1,618.7 L128.8,618.1 L128.4,617.4 L128.0,616.7 L127.7,616.0 L127.3,615.3 L127.0,614.7 L126.6,614.0 L126.3,613.3 L125.9,612.6 L125.6,611.9 L125.2,611.2 L124.9,610.5 L124.5,609.8 L124.2,609.2 L123.8,608.5 L123.5,607.8 L123.2,607.1 L122.8,606.4 L122.5,605.7 L122.2,605.0 L121.8,604.3 L121.5,603.6 L121.2,602.9 L120.9,602.2 L120.6,601.5 L120.2,600.8 L119.9,600.1 L119.6,599.4 L119.3,598.7 L119.0,598.0 L118.7,597.3 L118.4,596.6 L118.1,595.9 L117.8,595.2 L117.5,594.4 L117.2,593.7 L116.9,593.0 L116.6,592.3 L116.3,591.6 L116.0,590.9 L115.7,590.2 L115.4,589.5 L115.2,588.7 L114.9,588.0 L114.6,587.3 L114.3,586.6 L114.1,585.9 L113.8,585.2 L113.5,584.4 L113.2,583.7 L113.0,583.0 L112.7,582.3 L112.5,581.5 L112.2,580.8 L112.0,580.1 L111.7,579.4 L111.4,578.6 L111.2,577.9 L111.0,577.2 L110.7,576.5 L110.5,575.7 L110.2,575.0 L110.0,574.3 L109.8,573.5 L109.5,572.8 L109.3,572.1 L109.1,571.3 L108.9,570.6 L108.6,569.9 L108.4,569.1 L108.2,568.4 L108.0,567.7 L107.8,566.9 L107.6,566.2 L107.3,565.4 L107.1,564.7 L106.9,564.0 L106.7,563.2 L106.5,562.5 L106.3,561.7 L106.1,561.0 L106.0,560.3 L105.8,559.5 L105.6,558.8 L105.4,558.0 L105.2,557.3 L105.0,556.5 L104.9,555.8 L104.7,555.0 L104.5,554.3 L104.3,553.5 L104.2,552.8 L104.0,552.0 L103.8,551.3 L103.7,550.5 L103.5,549.8 L103.4,549.0 L103.2,548.3 L103.1,547.5 L102.9,546.8 L102.8,546.0 L102.6,545.3 L102.5,544.5 L102.4,543.8 L102.2,543.0 L102.1,542.2 L102.0,541.5 L101.8,540.7 L101.7,540.0 L101.6,539.2 L101.5,538.5 L101.3,537.7 L101.2,536.9 L101.1,536.2 L101.0,535.4 L100.9,534.7 L100.8,533.9 L100.7,533.1 L100.6,532.4 L100.5,531.6 L100.4,530.9 L100.3,530.1 L100.2,529.3 L100.1,528.6 L100.1,527.8 L100.0,527.1 L99.9,526.3 L99.8,525.5 L99.8,524.8 L99.7,524.0 L99.6,523.2 L99.6,522.5 L99.5,521.7 L99.4,520.9 L99.4,520.2 L99.3,519.4 L99.3,518.7 L99.2,517.9 L99.2,517.1 L99.1,516.4 L99.1,515.6 L99.1,514.8 L99.0,514.1 L99.0,513.3 L99.0,512.5 L98.9,511.8 L98.9,511.0 L98.9,510.2 L98.9,509.5 L98.9,508.7 L98.8,507.9 L98.8,507.2 L98.8,506.4 L98.8,505.6 L98.8,504.9 L98.8,504.1 L98.8,503.3 L98.8,502.6 L98.8,501.8 L98.8,501.0 L98.8,500.3 L98.9,499.5 L98.9,498.7 L98.9,497.9 L98.9,497.2 L98.9,496.4 L99.0,495.6 L99.0,494.9 L99.0,494.1 L99.0,493.3 L99.1,492.6 L99.1,491.8 L99.2,491.0 L99.2,490.3 L99.2,489.5 L99.3,488.7 L99.3,488.0 L99.4,487.2 L99.4,486.4 L99.5,485.7 L99.6,484.9 L99.6,484.1 L99.7,483.4 L99.7,482.6 L99.8,481.8 L99.9,481.1 L100.0,480.3 L100.0,479.5 L100.1,478.8 L100.2,478.0 L100.3,477.2 L100.3,476.5 L100.4,475.7 L100.5,474.9 L100.6,474.2 L100.7,473.4 L100.8,472.6 L100.9,471.9 L101.0,471.1 L101.1,470.3 L101.2,469.6 L101.3,468.8 L101.4,468.0 L101.5,467.3 L101.6,466.5 L101.7,465.8 L101.8,465.0 L101.9,464.2 L102.0,463.5 L102.2,462.7 L102.3,461.9 L102.4,461.2 L102.5,460.4 L102.6,459.6 L102.8,458.9 L102.9,458.1 L103.0,457.4 L103.2,456.6 L103.3,455.8 L103.4,455.1 L103.6,454.3 L103.7,453.6 L103.8,452.8 L104.0,452.0 L104.1,451.3 L104.3,450.5 L104.4,449.8 L104.6,449.0 L104.7,448.2 L104.9,447.5 L105.0,446.7 L105.2,446.0 L105.3,445.2 L105.5,444.5 L105.7,443.7 L105.8,442.9 L106.0,442.2 L106.2,441.4 L106.3,440.7 L106.5,439.9 L106.7,439.2 L106.8,438.4 L107.0,437.7 L107.2,436.9 L107.4,436.1 L107.5,435.4 L107.7,434.6 L107.9,433.9 L108.1,433.1 L108.3,432.4 L108.4,431.6 L108.6,430.9 L108.8,430.1 L109.0,429.4 L109.2,428.6 L109.4,427.9 L109.6,427.1 L109.8,426.4 L110.0,425.6 L110.2,424.9 L110.4,424.1 L110.6,423.4 L110.8,422.6 L111.0,421.9 L111.2,421.1 L111.4,420.4 L111.6,419.6 L111.8,418.9 L112.0,418.1 L112.2,417.4 L112.4,416.6 L112.6,415.9 L112.8,415.1 L113.0,414.4 L113.3,413.7 L113.5,412.9 L113.7,412.2 L113.9,411.4 L114.1,410.7 L114.4,409.9 L114.6,409.2 L114.8,408.4 L115.0,407.7 L115.2,407.0 L115.5,406.2 L115.7,405.5 L115.9,404.7 L116.2,404.0 L116.4,403.2 L116.6,402.5 L116.9,401.8 L117.1,401.0 L117.3,400.3 L117.6,399.5 L117.8,398.8 L118.0,398.0 L118.3,397.3 L118.5,396.6 L118.7,395.8 L119.0,395.1 L119.2,394.4 L119.5,393.6 L119.7,392.9 L120.0,392.1 L120.2,391.4 L120.5,390.7 L120.7,389.9 L121.0,389.2 L121.2,388.5 L121.5,387.7 L121.7,387.0 L122.0,386.3 L122.2,385.5 L122.5,384.8 L122.7,384.1 L123.0,383.3 L123.3,382.6 L123.5,381.9 L123.8,381.1 L124.1,380.4 L124.3,379.7 L124.6,379.0 L124.9,378.2 L125.1,377.5 L125.4,376.8 L125.7,376.1 L125.9,375.3 L126.2,374.6 L126.5,373.9 L126.8,373.2 L127.0,372.4 L127.3,371.7 L127.6,371.0 L127.9,370.3 L128.2,369.5 L128.4,368.8 L128.7,368.1 L129.0,367.4 L129.3,366.7 L129.6,366.0 L129.9,365.2 L130.2,364.5 L130.5,363.8 L130.8,363.1 L131.1,362.4 L131.4,361.7 L131.7,360.9 L132.0,360.2 L132.3,359.5 L132.6,358.8 L132.9,358.1 L133.2,357.4 L133.5,356.7 L133.8,356.0 L134.1,355.3 L134.4,354.6 L134.8,353.9 L135.1,353.2 L135.4,352.5 L135.7,351.8 L136.0,351.0 L136.4,350.3 L136.7,349.6 L137.0,348.9 L137.3,348.2 L137.7,347.6 L138.0,346.9 L138.3,346.2 L138.7,345.5 L139.0,344.8 L139.3,344.1 L139.7,343.4 L140.0,342.7 L140.4,342.0 L140.7,341.3 L141.1,340.6 L141.4,339.9 L141.8,339.2 L142.1,338.6 L142.5,337.9 L142.8,337.2 L143.2,336.5 L143.5,335.8 L143.9,335.2 L144.3,334.5 L144.6,333.8 L145.0,333.1 L145.4,332.4 L145.7,331.8 L146.1,331.1 L146.5,330.4 L146.9,329.7 L147.2,329.1 L147.6,328.4 L148.0,327.7 L148.4,327.1 L148.8,326.4 L149.2,325.7 L149.6,325.1 L149.9,324.4 L150.3,323.8 L150.7,323.1 L151.1,322.4 L151.5,321.8 L151.9,321.1 L152.3,320.5 L152.7,319.8 L153.1,319.2 L153.6,318.5 L154.0,317.9 L154.4,317.2 L154.8,316.6 L155.2,315.9 L155.6,315.3 L156.0,314.6 L156.5,314.0 L156.9,313.4 L157.3,312.7 L157.8,312.1 L158.2,311.5 L158.6,310.8 L159.1,310.2 L159.5,309.6 L159.9,308.9 L160.4,308.3 L160.8,307.7 L161.3,307.1 L161.7,306.4 L162.2,305.8 L162.6,305.2 L163.1,304.6 L163.5,304.0 L164.0,303.4 L164.4,302.7 L164.9,302.1 L165.4,301.5 L165.8,300.9 L166.3,300.3 L166.8,299.7 L167.3,299.1 L167.7,298.5 L168.2,297.9 L168.7,297.3 L169.2,296.7 L169.7,296.1 L170.1,295.5 L170.6,294.9 L171.1,294.4 L171.6,293.8 L172.1,293.2 L172.6,292.6 L173.1,292.0 L173.6,291.5 L174.1,290.9 L174.6,290.3 L175.1,289.7 L175.6,289.2 L176.2,288.6 L176.7,288.0 L177.2,287.5 L177.7,286.9 L178.2,286.3 L178.8,285.8 L179.3,285.2 L179.8,284.7 L180.3,284.1 L180.9,283.6 L181.4,283.0 L181.9,282.5 L182.5,281.9 L183.0,281.4 L183.6,280.9 L184.1,280.3 L184.7,279.8 L185.2,279.3 L185.8,278.7 L186.3,278.2 L186.9,277.7 L187.4,277.2 L188.0,276.6 L188.5,276.1 L189.1,275.6 L189.7,275.1 L190.2,274.6 L190.8,274.1 L191.4,273.6 L191.9,273.1 L192.5,272.6 L193.1,272.1 L193.7,271.6 L194.3,271.1 L194.8,270.6 L195.4,270.1 L196.0,269.6 L196.6,269.1 L197.2,268.7 L197.8,268.2 L198.4,267.7 L199.0,267.2 L199.6,266.8 L200.2,266.3 L200.8,265.8 L201.4,265.4 L202.0,264.9 L202.6,264.5 L203.2,264.0 L203.9,263.6 L204.5,263.1 L205.1,262.7 L205.7,262.2 L206.3,261.8 L207.0,261.4 L207.6,260.9 L208.2,260.5 L208.8,260.1 L209.5,259.7 L210.1,259.2 L210.7,258.8 L211.4,258.4 L212.0,258.0 L212.7,257.6 L213.3,257.2 L214.0,256.8 L214.6,256.4 L215.2,256.0 L215.9,255.6 L216.6,255.2 L217.2,254.8 L217.9,254.4 L218.5,254.1 L219.2,253.7 L219.8,253.3 L220.5,252.9 L221.2,252.6 L221.8,252.2 L222.5,251.8 L223.2,251.5 L223.9,251.1 L224.5,250.8 L225.2,250.4 L225.9,250.1 L226.6,249.7 L227.3,249.4 L227.9,249.1 L228.6,248.7 L229.3,248.4 L230.0,248.1 L230.7,247.7 L231.4,247.4 L232.1,247.1 L232.8,246.8 L233.5,246.5 L234.1,246.1 L234.8,245.8 L235.5,245.5 L236.2,245.2 L236.9,244.9 L237.7,244.6 L238.4,244.3 L239.1,244.0 L239.8,243.7 L240.5,243.5 L241.2,243.2 L241.9,242.9 L242.6,242.6 L243.3,242.3 L244.0,242.1 L244.8,241.8 L245.5,241.5 L246.2,241.3 L246.9,241.0 L247.6,240.8 L248.3,240.5 L249.1,240.2 L249.8,240.0 L250.5,239.7 L251.2,239.5 L252.0,239.3 L252.7,239.0 L253.4,238.8 L254.1,238.5 L254.9,238.3 L255.6,238.1 L256.3,237.9 L257.1,237.6 L257.8,237.4 L258.5,237.2 L259.3,237.0 L260.0,236.8 L260.7,236.6 L261.5,236.4 L262.2,236.1 L263.0,235.9 L263.7,235.7 L264.4,235.5 L265.2,235.4 L265.9,235.2 L266.7,235.0 L267.4,234.8 L268.2,234.6 L268.9,234.4 L269.6,234.2 L270.4,234.1 L271.1,233.9 L271.9,233.7 L272.6,233.5 L273.4,233.4 L274.1,233.2 L274.9,233.0 L275.6,232.9 L276.4,232.7 L277.1,232.6 L277.9,232.4 L278.6,232.3 L279.4,232.1 L280.2,232.0 L280.9,231.8 L281.7,231.7 L282.4,231.6 L283.2,231.4 L283.9,231.3 L284.7,231.2 L285.5,231.0 L286.2,230.9 L287.0,230.8 L287.7,230.6 L288.5,230.5 L289.2,230.4 L290.0,230.3 L290.8,230.2 L291.5,230.1 L292.3,230.0 L293.1,229.9 L293.8,229.8 L294.6,229.6 L295.3,229.5 L296.1,229.4 L296.9,229.4 L297.6,229.3 L298.4,229.2 L299.2,229.1 L299.9,229.0 L300.7,228.9 L301.5,228.8 L302.2,228.7 L303.0,228.7 L303.8,228.6 L304.5,228.5 L305.3,228.4 L306.1,228.3 L306.8,228.3 L307.6,228.2 L308.4,228.1 L309.2,228.1 L309.9,228.0 L310.7,227.9 L311.5,227.9 L312.2,227.8 L313.0,227.8 L313.8,227.7 L314.6,227.6 L315.3,227.6 L316.1,227.5 L316.9,227.5 L317.6,227.4 L318.4,227.4 L319.2,227.3 L320.0,227.3 L320.7,227.3 L321.5,227.2 L322.3,227.2 L323.1,227.1 L323.8,227.1 L324.6,227.0 L325.4,227.0 L326.2,227.0 L326.9,226.9 L327.7,226.9 L328.5,226.9 L329.3,226.8 L330.1,226.8 L330.8,226.8 L331.6,226.7 L332.4,226.7 L333.2,226.7 L333.9,226.7 L334.7,226.6 L335.5,226.6 L336.3,226.6 L337.1,226.6 L337.8,226.5 L338.6,226.5 L339.4,226.5 L340.2,226.5 L341.0,226.5 L341.7,226.4 L342.5,226.4 L343.3,226.4 L344.1,226.4 L344.9,226.4 L345.6,226.4 L346.4,226.3 L347.2,226.3 L348.0,226.3 L348.8,226.3 L349.5,226.3 L350.3,226.3 L351.1,226.3 L351.9,226.2 L352.7,226.2 L353.5,226.2 L354.2,226.2 L355.0,226.2 L355.8,226.2 L356.6,226.2 L357.4,226.2 L358.1,226.1 L358.9,226.1 L359.7,226.1 L360.5,226.1 L361.3,226.1 L362.1,226.1 L362.9,226.1 L363.6,226.1 L364.4,226.0 L365.2,226.0 L366.0,226.0 L366.8,226.0 L367.6,226.0 L368.4,226.0 L369.1,226.0 L369.9,226.0 L370.7,225.9 L371.5,225.9 L372.3,225.9 L373.1,225.9 L373.9,225.9 L374.6,225.9 L375.4,225.8 L376.2,225.8 L377.0,225.8 L377.8,225.8 L378.6,225.8 L379.4,225.7 L380.2,225.7 L380.9,225.7 L381.7,225.7 L382.5,225.7 L383.3,225.6 L384.1,225.6 Z"/>
<path d="M149.5,345.0 A2.0,2.0 0 0 1 149.5,341.0 L149.5,341.0 L150.3,340.7 L151.2,340.6 L152.0,340.5 L152.9,340.4 L153.7,340.4 L154.5,340.3 L155.4,340.2 L156.2,340.2 L157.0,340.1 L157.9,340.1 L158.7,340.0 L159.6,340.0 L160.4,339.9 L161.2,339.9 L162.1,339.8 L162.9,339.8 L163.7,339.7 L164.6,339.7 L165.4,339.7 L166.3,339.6 L167.1,339.6 L167.9,339.5 L168.8,339.5 L169.6,339.5 L170.4,339.4 L171.3,339.4 L172.1,339.4 L173.0,339.3 L173.8,339.3 L174.6,339.3 L175.5,339.2 L176.3,339.2 L177.1,339.2 L178.0,339.1 L178.8,339.1 L179.7,339.1 L180.5,339.0 L181.3,339.0 L182.2,339.0 L183.0,339.0 L183.8,338.9 L184.7,338.9 L185.5,338.9 L186.4,338.8 L187.2,338.8 L188.0,338.8 L188.9,338.8 L189.7,338.7 L190.6,338.7 L191.4,338.7 L192.2,338.6 L193.1,338.6 L193.9,338.6 L194.7,338.6 L195.6,338.5 L196.4,338.5 L197.3,338.5 L198.1,338.5 L198.9,338.4 L199.8,338.4 L200.6,338.4 L201.4,338.4 L202.3,338.4 L203.1,338.4 L204.0,338.4 L204.8,338.3 L205.6,338.3 L206.5,338.3 L207.3,338.3 L208.1,338.3 L209.0,338.3 L209.8,338.3 L210.7,338.3 L211.5,338.2 L212.3,338.2 L213.2,338.2 L214.0,338.2 L214.8,338.2 L215.7,338.2 L216.5,338.2 L217.4,338.2 L218.2,338.1 L219.0,338.1 L219.9,338.1 L220.7,338.1 L221.6,338.1 L222.4,338.1 L223.2,338.1 L224.1,338.1 L224.9,338.1 L225.7,338.0 L226.6,338.0 L227.4,338.0 L228.3,338.0 L229.1,338.0 L229.9,338.0 L230.8,338.0 L231.6,338.0 L232.4,337.9 L233.3,337.9 L234.1,337.9 L235.0,337.9 L235.8,337.9 L236.6,337.9 L237.5,337.9 L238.3,337.9 L239.1,337.8 L240.0,337.8 L240.8,337.8 L241.7,337.8 L242.5,337.8 L243.3,337.8 L244.2,337.8 L245.0,337.8 L245.8,337.7 L246.7,337.7 L247.5,337.7 L248.4,337.7 L249.2,337.7 L250.0,337.7 L250.9,337.7 L251.7,337.7 L252.5,337.6 L253.4,337.6 L254.2,337.6 L255.1,337.6 L255.9,337.6 L256.7,337.6 L257.6,337.6 L258.4,337.6 L259.3,337.6 L260.1,337.5 L260.9,337.5 L261.8,337.5 L262.6,337.5 L263.4,337.5 L264.3,337.5 L265.1,337.5 L266.0,337.5 L266.8,337.4 L267.6,337.4 L268.5,337.4 L269.3,337.4 L270.1,337.4 L271.0,337.4 L271.8,337.4 L272.7,337.4 L273.5,337.3 L274.3,337.3 L275.2,337.3 L276.0,337.3 L276.8,337.3 L277.7,337.3 L278.5,337.3 L279.4,337.3 L280.2,337.2 L281.0,337.2 L281.9,337.2 L282.7,337.2 L283.5,337.2 L284.4,337.2 L285.2,337.2 L286.1,337.2 L286.9,337.1 L287.7,337.1 L288.6,337.1 L289.4,337.1 L290.2,337.1 L291.1,337.1 L291.9,337.1 L292.8,337.1 L293.6,337.1 L294.4,337.0 L295.3,337.0 L296.1,337.0 L297.0,337.0 L297.8,337.0 L298.6,337.0 L299.5,337.0 L300.3,337.0 L301.1,336.9 L302.0,336.9 L302.8,336.9 L303.7,336.9 L304.5,336.9 L305.3,336.9 L306.2,336.9 L307.0,336.9 L307.8,336.8 L308.7,336.8 L309.5,336.8 L310.4,336.8 L311.2,336.8 L312.0,336.8 L312.9,336.8 L313.7,336.8 L314.5,336.7 L315.4,336.7 L316.2,336.7 L317.1,336.7 L317.9,336.7 L318.7,336.7 L319.6,336.7 L320.4,336.7 L321.2,336.6 L322.1,336.6 L322.9,336.6 L323.8,336.6 L324.6,336.6 L325.4,336.6 L326.3,336.6 L327.1,336.6 L327.9,336.5 L328.8,336.5 L329.6,336.5 L330.5,336.5 L331.3,336.5 L332.1,336.5 L333.0,336.5 L333.8,336.5 L334.7,336.5 L335.5,336.4 L336.3,336.4 L337.2,336.4 L338.0,336.4 L338.8,336.4 L339.7,336.4 L340.5,336.4 L341.4,336.4 L342.2,336.3 L343.0,336.3 L343.9,336.3 L344.7,336.3 L345.5,336.3 L346.4,336.3 L347.2,336.3 L348.1,336.3 L348.9,336.2 L349.7,336.2 L350.6,336.2 L351.4,336.2 L352.2,336.2 L353.1,336.2 L353.9,336.2 L354.8,336.2 L355.6,336.1 L356.4,336.1 L357.3,336.1 L358.1,336.1 L358.9,336.1 L359.8,336.1 L360.6,336.1 L361.5,336.1 L362.3,336.0 L363.1,336.0 L364.0,336.0 L364.8,336.0 L365.7,336.0 L366.5,336.0 L367.3,336.0 L368.2,336.0 L369.0,336.0 L369.8,335.9 L370.7,335.9 L371.5,335.9 L372.4,335.9 L373.2,335.9 L374.0,335.9 L374.9,335.9 L375.7,335.9 L376.5,335.8 L377.4,335.8 L378.2,335.8 L379.1,335.8 L379.9,335.8 L380.7,335.8 L381.6,335.8 L382.4,335.8 L383.2,335.7 L384.1,335.7 L384.9,335.7 L385.8,335.7 L386.6,335.7 L387.4,335.7 L388.3,335.7 L389.1,335.7 L389.9,335.6 L390.8,335.6 L391.6,335.6 L392.5,335.6 L393.3,335.6 L394.1,335.6 L395.0,335.6 L395.8,335.6 L396.6,335.5 L397.5,335.5 L398.3,335.5 L399.2,335.5 L400.0,335.5 L400.0,345.7 L399.2,345.7 L398.3,345.7 L397.5,345.7 L396.6,345.7 L395.8,345.7 L395.0,345.7 L394.1,345.7 L393.3,345.7 L392.5,345.7 L391.6,345.7 L390.8,345.7 L389.9,345.7 L389.1,345.8 L388.3,345.8 L387.4,345.8 L386.6,345.8 L385.8,345.8 L384.9,345.8 L384.1,345.8 L383.2,345.8 L382.4,345.8 L381.6,345.8 L380.7,345.8 L379.9,345.8 L379.1,345.8 L378.2,345.8 L377.4,345.8 L376.5,345.8 L375.7,345.8 L374.9,345.8 L374.0,345.8 L373.2,345.8 L372.4,345.8 L371.5,345.8 L370.7,345.8 L369.8,345.8 L369.0,345.8 L368.2,345.8 L367.3,345.9 L366.5,345.9 L365.7,345.9 L364.8,345.9 L364.0,345.9 L363.1,345.9 L362.3,345.9 L361.5,345.9 L360.6,345.9 L359.8,345.9 L358.9,345.9 L358.1,345.9 L357.3,345.9 L356.4,345.9 L355.6,345.9 L354.8,345.9 L353.9,345.9 L353.1,345.9 L352.2,345.9 L351.4,345.9 L350.6,345.9 L349.7,345.9 L348.9,345.9 L348.1,345.9 L347.2,345.9 L346.4,345.9 L345.5,346.0 L344.7,346.0 L343.9,346.0 L343.0,346.0 L342.2,346.0 L341.4,346.0 L340.5,346.0 L339.7,346.0 L338.8,346.0 L338.0,346.0 L337.2,346.0 L336.3,346.0 L335.5,346.0 L334.7,346.0 L333.8,346.0 L333.0,346.0 L332.1,346.0 L331.3,346.0 L330.5,346.0 L329.6,346.0 L328.8,346.0 L327.9,346.0 L327.1,346.0 L326.3,346.0 L325.4,346.0 L324.6,346.0 L323.8,346.1 L322.9,346.1 L322.1,346.1 L321.2,346.1 L320.4,346.1 L319.6,346.1 L318.7,346.1 L317.9,346.1 L317.1,346.1 L316.2,346.1 L315.4,346.1 L314.5,346.1 L313.7,346.1 L312.9,346.1 L312.0,346.1 L311.2,346.1 L310.4,346.1 L309.5,346.1 L308.7,346.1 L307.8,346.1 L307.0,346.1 L306.2,346.1 L305.3,346.1 L304.5,346.1 L303.7,346.1 L302.8,346.1 L302.0,346.2 L301.1,346.2 L300.3,346.2 L299.5,346.2 L298.6,346.2 L297.8,346.2 L297.0,346.2 L296.1,346.2 L295.3,346.2 L294.4,346.2 L293.6,346.2 L292.8,346.2 L291.9,346.2 L291.1,346.2 L290.2,346.2 L289.4,346.2 L288.6,346.2 L287.7,346.2 L286.9,346.2 L286.1,346.2 L285.2,346.2 L284.4,346.2 L283.5,346.2 L282.7,346.2 L281.9,346.2 L281.0,346.2 L280.2,346.3 L279.4,346.3 L278.5,346.3 L277.7,346.3 L276.8,346.3 L276.0,346.3 L275.2,346.3 L274.3,346.3 L273.5,346.3 L272.7,346.3 L271.8,346.3 L271.0,346.3 L270.1,346.3 L269.3,346.3 L268.5,346.3 L267.6,346.3 L266.8,346.3 L266.0,346.3 L265.1,346.3 L264.3,346.3 L263.4,346.3 L262.6,346.3 L261.8,346.3 L260.9,346.3 L260.1,346.3 L259.3,346.3 L258.4,346.4 L257.6,346.4 L256.7,346.4 L255.9,346.4 L255.1,346.4 L254.2,346.4 L253.4,346.4 L252.5,346.4 L251.7,346.4 L250.9,346.4 L250.0,346.4 L249.2,346.4 L248.4,346.4 L247.5,346.4 L246.7,346.4 L245.8,346.4 L245.0,346.4 L244.2,346.4 L243.3,346.4 L242.5,346.4 L241.7,346.4 L240.8,346.4 L240.0,346.4 L239.1,346.4 L238.3,346.4 L237.5,346.4 L236.6,346.5 L235.8,346.5 L235.0,346.5 L234.1,346.5 L233.3,346.5 L232.4,346.5 L231.6,346.5 L230.8,346.5 L229.9,346.5 L229.1,346.5 L228.3,346.5 L227.4,346.5 L226.6,346.5 L225.7,346.5 L224.9,346.5 L224.1,346.5 L223.2,346.5 L222.4,346.5 L221.6,346.5 L220.7,346.5 L219.9,346.5 L219.0,346.5 L218.2,346.5 L217.4,346.5 L216.5,346.5 L215.7,346.5 L214.8,346.6 L214.0,346.6 L213.2,346.6 L212.3,346.6 L211.5,346.6 L210.7,346.6 L209.8,346.6 L209.0,346.6 L208.1,346.6 L207.3,346.6 L206.5,346.6 L205.6,346.6 L204.8,346.6 L204.0,346.6 L203.1,346.6 L202.3,346.6 L201.4,346.6 L200.6,346.6 L199.8,346.6 L198.9,346.6 L198.1,346.6 L197.3,346.6 L196.4,346.6 L195.6,346.6 L194.7,346.6 L193.9,346.6 L193.1,346.5 L192.2,346.5 L191.4,346.5 L190.6,346.5 L189.7,346.5 L188.9,346.5 L188.0,346.5 L187.2,346.5 L186.4,346.4 L185.5,346.4 L184.7,346.4 L183.8,346.4 L183.0,346.4 L182.2,346.4 L181.3,346.4 L180.5,346.4 L179.7,346.3 L178.8,346.3 L178.0,346.3 L177.1,346.3 L176.3,346.3 L175.5,346.3 L174.6,346.2 L173.8,346.2 L173.0,346.2 L172.1,346.2 L171.3,346.2 L170.4,346.2 L169.6,346.1 L168.8,346.1 L167.9,346.1 L167.1,346.1 L166.3,346.1 L165.4,346.0 L164.6,346.0 L163.7,346.0 L162.9,346.0 L162.1,345.9 L161.2,345.9 L160.4,345.9 L159.6,345.8 L158.7,345.8 L157.9,345.8 L157.0,345.7 L156.2,345.7 L155.4,345.7 L154.5,345.6 L153.7,345.6 L152.9,345.5 L152.0,345.4 L151.2,345.4 L150.3,345.3 L149.5,345.0 Z"/>
<path d="M150.5,430.7 A3.0,3.0 0 0 1 150.5,424.7 L150.5,424.7 L151.3,424.2 L152.2,424.0 L153.0,423.8 L153.8,423.7 L154.7,423.6 L155.5,423.5 L156.3,423.4 L157.2,423.3 L158.0,423.2 L158.8,423.1 L159.7,423.0 L160.5,423.0 L161.3,422.9 L162.2,422.8 L163.0,422.7 L163.9,422.7 L164.7,422.6 L165.5,422.6 L166.4,422.5 L167.2,422.4 L168.0,422.4 L168.9,422.3 L169.7,422.3 L170.5,422.2 L171.4,422.2 L172.2,422.1 L173.0,422.1 L173.9,422.0 L174.7,422.0 L175.5,421.9 L176.4,421.9 L177.2,421.8 L178.0,421.8 L178.9,421.7 L179.7,421.7 L180.5,421.7 L181.4,421.7 L182.2,421.7 L183.0,421.7 L183.9,421.6 L184.7,421.6 L185.5,421.6 L186.4,421.6 L187.2,421.6 L188.1,421.6 L188.9,421.6 L189.7,421.6 L190.6,421.6 L191.4,421.6 L192.2,421.6 L193.1,421.6 L193.9,421.6 L194.7,421.6 L195.6,421.6 L196.4,421.6 L197.2,421.6 L198.1,421.6 L198.9,421.6 L199.7,421.6 L200.6,421.6 L201.4,421.6 L202.2,421.6 L203.1,421.6 L203.9,421.6 L204.7,421.6 L205.6,421.6 L206.4,421.6 L207.2,421.5 L208.1,421.5 L208.9,421.5 L209.7,421.5 L210.6,421.5 L211.4,421.5 L212.2,421.5 L213.1,421.5 L213.9,421.5 L214.8,421.5 L215.6,421.5 L216.4,421.5 L217.3,421.5 L218.1,421.5 L218.9,421.5 L219.8,421.5 L220.6,421.5 L221.4,421.5 L222.3,421.5 L223.1,421.5 L223.9,421.5 L224.8,421.5 L225.6,421.5 L226.4,421.5 L227.3,421.5 L228.1,421.5 L228.9,421.5 L229.8,421.4 L230.6,421.4 L231.4,421.4 L232.3,421.4 L233.1,421.4 L233.9,421.4 L234.8,421.4 L235.6,421.4 L236.4,421.4 L237.3,421.4 L238.1,421.4 L239.0,421.4 L239.8,421.4 L240.6,421.4 L241.5,421.4 L242.3,421.4 L243.1,421.4 L244.0,421.4 L244.8,421.4 L245.6,421.4 L246.5,421.4 L247.3,421.4 L248.1,421.4 L249.0,421.4 L249.8,421.4 L250.6,421.4 L251.5,421.4 L252.3,421.3 L253.1,421.3 L254.0,421.3 L254.8,421.3 L255.6,421.3 L256.5,421.3 L257.3,421.3 L258.1,421.3 L259.0,421.3 L259.8,421.3 L260.6,421.3 L261.5,421.3 L262.3,421.3 L263.2,421.3 L264.0,421.3 L264.8,421.3 L265.7,421.3 L266.5,421.3 L267.3,421.3 L268.2,421.3 L269.0,421.3 L269.8,421.3 L270.7,421.3 L271.5,421.3 L272.3,421.3 L273.2,421.3 L274.0,421.3 L274.8,421.2 L275.7,421.2 L276.5,421.2 L277.3,421.2 L278.2,421.2 L279.0,421.2 L279.8,421.2 L280.7,421.2 L281.5,421.2 L282.3,421.2 L283.2,421.2 L284.0,421.2 L284.8,421.2 L285.7,421.2 L286.5,421.2 L287.3,421.2 L288.2,421.2 L289.0,421.2 L289.9,421.2 L290.7,421.2 L291.5,421.2 L292.4,421.2 L293.2,421.2 L294.0,421.2 L294.9,421.2 L295.7,421.2 L296.5,421.2 L297.4,421.2 L298.2,421.1 L299.0,421.1 L299.9,421.1 L300.7,421.1 L301.5,421.1 L302.4,421.1 L303.2,421.1 L304.0,421.1 L304.9,421.1 L305.7,421.1 L306.5,421.1 L307.4,421.1 L308.2,421.1 L309.0,421.1 L309.9,421.1 L310.7,421.1 L311.5,421.1 L312.4,421.1 L313.2,421.1 L314.1,421.1 L314.9,421.1 L315.7,421.1 L316.6,421.1 L317.4,421.1 L318.2,421.1 L319.1,421.1 L319.9,421.1 L320.7,421.0 L321.6,421.0 L322.4,421.0 L323.2,421.0 L324.1,421.0 L324.9,421.0 L325.7,421.0 L326.6,421.0 L327.4,421.0 L328.2,421.0 L329.1,421.0 L329.9,421.0 L330.7,421.0 L331.6,421.0 L332.4,421.0 L333.2,421.0 L334.1,421.0 L334.9,421.0 L335.7,421.0 L336.6,421.0 L337.4,421.0 L338.3,421.0 L339.1,421.0 L339.9,421.0 L340.8,421.0 L341.6,421.0 L342.4,421.0 L343.3,420.9 L344.1,420.9 L344.9,420.9 L345.8,420.9 L346.6,420.9 L347.4,420.9 L348.3,420.9 L349.1,420.9 L349.9,420.9 L350.8,420.9 L351.6,420.9 L352.4,420.9 L353.3,420.9 L354.1,420.9 L354.9,420.9 L355.8,420.9 L356.6,420.9 L357.4,420.9 L358.3,420.9 L359.1,420.9 L359.9,420.9 L360.8,420.9 L361.6,420.9 L362.4,420.9 L363.3,420.9 L364.1,420.9 L365.0,420.9 L365.8,420.9 L366.6,420.8 L367.5,420.8 L368.3,420.8 L369.1,420.8 L370.0,420.8 L370.8,420.8 L371.6,420.8 L372.5,420.8 L373.3,420.8 L374.1,420.8 L375.0,420.8 L375.8,420.8 L376.6,420.8 L377.5,420.8 L378.3,420.8 L379.1,420.8 L380.0,420.8 L380.8,420.8 L381.6,420.8 L382.5,420.8 L383.3,420.8 L384.1,420.8 L385.0,420.8 L385.8,420.8 L386.6,420.8 L387.5,420.8 L388.3,420.8 L389.2,420.7 L390.0,420.7 L390.8,420.7 L391.7,420.7 L392.5,420.7 L393.3,420.7 L394.2,420.7 L395.0,420.7 L395.8,420.7 L396.7,420.7 L397.5,420.7 L398.3,420.7 L399.2,420.7 L400.0,420.7 L400.0,434.1 L399.2,434.1 L398.3,434.1 L397.5,434.1 L396.7,434.1 L395.8,434.1 L395.0,434.1 L394.2,434.1 L393.3,434.1 L392.5,434.1 L391.7,434.1 L390.8,434.1 L390.0,434.1 L389.2,434.1 L388.3,434.1 L387.5,434.1 L386.6,434.1 L385.8,434.1 L385.0,434.1 L384.1,434.1 L383.3,434.1 L382.5,434.1 L381.6,434.1 L380.8,434.1 L380.0,434.1 L379.1,434.1 L378.3,434.1 L377.5,434.1 L376.6,434.1 L375.8,434.1 L375.0,434.1 L374.1,434.0 L373.3,434.0 L372.5,434.0 L371.6,434.0 L370.8,434.0 L370.0,434.0 L369.1,434.0 L368.3,434.0 L367.5,434.0 L366.6,434.0 L365.8,434.0 L365.0,434.0 L364.1,434.0 L363.3,434.0 L362.4,434.0 L361.6,434.0 L360.8,434.0 L359.9,434.0 L359.1,434.0 L358.3,434.0 L357.4,434.0 L356.6,434.0 L355.8,434.0 L354.9,434.0 L354.1,434.0 L353.3,434.0 L352.4,434.0 L351.6,434.0 L350.8,434.0 L349.9,434.0 L349.1,434.0 L348.3,434.0 L347.4,434.0 L346.6,434.0 L345.8,434.0 L344.9,434.0 L344.1,434.0 L343.3,434.0 L342.4,434.0 L341.6,434.0 L340.8,434.0 L339.9,434.0 L339.1,434.0 L338.3,434.0 L337.4,434.0 L336.6,434.0 L335.7,434.0 L334.9,434.0 L334.1,434.0 L333.2,434.0 L332.4,434.0 L331.6,434.0 L330.7,434.0 L329.9,434.0 L329.1,434.0 L328.2,434.0 L327.4,434.0 L326.6,434.0 L325.7,434.0 L324.9,434.0 L324.1,433.9 L323.2,433.9 L322.4,433.9 L321.6,433.9 L320.7,433.9 L319.9,433.9 L319.1,433.9 L318.2,433.9 L317.4,433.9 L316.6,433.9 L315.7,433.9 L314.9,433.9 L314.1,433.9 L313.2,433.9 L312.4,433.9 L311.5,433.9 L310.7,433.9 L309.9,433.9 L309.0,433.9 L308.2,433.9 L307.4,433.9 L306.5,433.9 L305.7,433.9 L304.9,433.9 L304.0,433.9 L303.2,433.9 L302.4,433.9 L301.5,433.9 L300.7,433.9 L299.9,433.9 L299.0,433.9 L298.2,433.9 L297.4,433.9 L296.5,433.9 L295.7,433.9 L294.9,433.9 L294.0,433.9 L293.2,433.9 L292.4,433.9 L291.5,433.9 L290.7,433.9 L289.9,433.9 L289.0,433.9 L288.2,433.9 L287.3,433.9 L286.5,433.9 L285.7,433.9 L284.8,433.9 L284.0,433.9 L283.2,433.9 L282.3,433.9 L281.5,433.9 L280.7,433.9 L279.8,433.9 L279.0,433.9 L278.2,433.9 L277.3,433.9 L276.5,433.9 L275.7,433.9 L274.8,433.9 L274.0,433.8 L273.2,433.8 L272.3,433.8 L271.5,433.8 L270.7,433.8 L269.8,433.8 L269.0,433.8 L268.2,433.8 L267.3,433.8 L266.5,433.8 L265.7,433.8 L264.8,433.8 L264.0,433.8 L263.2,433.8 L262.3,433.8 L261.5,433.8 L260.6,433.8 L259.8,433.8 L259.0,433.8 L258.1,433.8 L257.3,433.8 L256.5,433.8 L255.6,433.8 L254.8,433.8 L254.0,433.8 L253.1,433.8 L252.3,433.8 L251.5,433.8 L250.6,433.8 L249.8,433.8 L249.0,433.8 L248.1,433.8 L247.3,433.8 L246.5,433.8 L245.6,433.8 L244.8,433.8 L244.0,433.8 L243.1,433.8 L242.3,433.8 L241.5,433.8 L240.6,433.8 L239.8,433.8 L239.0,433.8 L238.1,433.8 L237.3,433.8 L236.4,433.8 L235.6,433.8 L234.8,433.8 L233.9,433.8 L233.1,433.8 L232.3,433.8 L231.4,433.8 L230.6,433.8 L229.8,433.8 L228.9,433.8 L228.1,433.8 L227.3,433.8 L226.4,433.8 L225.6,433.8 L224.8,433.8 L223.9,433.8 L223.1,433.7 L222.3,433.7 L221.4,433.7 L220.6,433.7 L219.8,433.7 L218.9,433.7 L218.1,433.7 L217.3,433.7 L216.4,433.7 L215.6,433.7 L214.8,433.7 L213.9,433.7 L213.1,433.7 L212.2,433.7 L211.4,433.7 L210.6,433.7 L209.7,433.7 L208.9,433.7 L208.1,433.7 L207.2,433.7 L206.4,433.7 L205.6,433.7 L204.7,433.7 L203.9,433.7 L203.1,433.7 L202.2,433.7 L201.4,433.7 L200.6,433.7 L199.7,433.7 L198.9,433.7 L198.1,433.7 L197.2,433.7 L196.4,433.7 L195.6,433.7 L194.7,433.7 L193.9,433.7 L193.1,433.7 L192.2,433.7 L191.4,433.7 L190.6,433.7 L189.7,433.7 L188.9,433.7 L188.1,433.7 L187.2,433.7 L186.4,433.7 L185.5,433.7 L184.7,433.7 L183.9,433.7 L183.0,433.7 L182.2,433.7 L181.4,433.7 L180.5,433.7 L179.7,433.6 L178.9,433.6 L178.0,433.5 L177.2,433.5 L176.4,433.5 L175.5,433.4 L174.7,433.4 L173.9,433.3 L173.0,433.3 L172.2,433.2 L171.4,433.2 L170.5,433.1 L169.7,433.1 L168.9,433.0 L168.0,433.0 L167.2,432.9 L166.4,432.9 L165.5,432.8 L164.7,432.7 L163.9,432.7 L163.0,432.6 L162.2,432.6 L161.3,432.5 L160.5,432.4 L159.7,432.3 L158.8,432.3 L158.0,432.2 L157.2,432.1 L156.3,432.0 L155.5,431.9 L154.7,431.8 L153.8,431.7 L153.0,431.6 L152.2,431.4 L151.3,431.2 L150.5,430.7 Z"/>
<path d="M113.5,502.0 L113.5,500.5 L113.9,500.2 L114.3,500.1 L114.7,500.1 L115.1,500.0 L115.5,499.9 L116.0,499.9 L116.4,499.8 L116.8,499.8 L117.2,499.7 L117.6,499.7 L118.0,499.6 L118.4,499.6 L118.8,499.6 L119.2,499.5 L119.6,499.5 L120.1,499.5 L120.5,499.4 L120.9,499.4 L121.3,499.4 L121.7,499.4 L122.1,499.3 L122.5,499.3 L122.9,499.3 L123.3,499.3 L123.7,499.2 L124.2,499.2 L124.6,499.2 L125.0,499.2 L125.4,499.1 L125.8,499.1 L126.2,499.1 L126.6,499.1 L127.0,499.0 L127.4,499.0 L127.8,499.0 L128.3,499.0 L128.7,499.0 L129.1,498.9 L129.5,498.9 L129.9,498.9 L130.3,498.9 L130.7,498.9 L131.1,498.9 L131.5,498.8 L131.9,498.8 L132.4,498.8 L132.8,498.8 L133.2,498.8 L133.6,498.7 L134.0,498.7 L134.4,498.7 L134.8,498.7 L135.2,498.7 L135.6,498.7 L136.0,498.6 L136.5,498.6 L136.9,498.6 L137.3,498.6 L137.7,498.6 L138.1,498.6 L138.5,498.6 L138.9,498.5 L139.3,498.5 L139.7,498.5 L140.1,498.5 L140.6,498.5 L141.0,498.5 L141.4,498.5 L141.8,498.4 L142.2,498.4 L142.6,498.4 L143.0,498.4 L143.4,498.4 L143.8,498.3 L144.2,498.3 L144.7,498.3 L145.1,498.2 L145.5,498.2 L145.9,498.1 L146.3,498.1 L146.7,498.0 L147.1,498.0 L147.5,497.9 L147.9,497.9 L148.3,497.8 L148.7,497.8 L149.2,497.7 L149.6,497.7 L150.0,497.6 L150.4,497.6 L150.8,497.6 L151.2,497.5 L151.6,497.5 L152.0,497.5 L152.4,497.5 L152.8,497.5 L153.3,497.5 L153.7,497.5 L154.1,497.5 L154.5,497.5 L154.9,497.5 L155.3,497.5 L155.7,497.6 L156.1,497.6 L156.5,497.6 L156.9,497.7 L157.4,497.7 L157.8,497.8 L158.2,497.8 L158.6,497.9 L159.0,497.9 L159.4,497.8 L159.8,497.7 L160.2,497.6 L160.6,497.5 L161.0,497.4 L161.5,497.3 L161.9,497.2 L162.3,497.1 L162.7,497.0 L163.1,496.9 L163.5,496.8 L163.9,496.7 L164.3,496.6 L164.7,496.6 L165.1,496.5 L165.6,496.4 L166.0,496.3 L166.4,496.2 L166.8,496.1 L167.2,496.1 L167.6,496.0 L168.0,495.9 L168.4,495.9 L168.8,495.9 L169.2,495.9 L169.7,495.9 L170.1,495.9 L170.5,495.9 L170.9,496.0 L171.3,496.0 L171.7,496.1 L172.1,496.1 L172.5,496.2 L172.9,496.3 L173.3,496.3 L173.8,496.4 L174.2,496.5 L174.6,496.6 L175.0,496.7 L175.4,496.8 L175.8,496.9 L176.2,497.0 L176.6,497.2 L177.0,497.3 L177.4,497.4 L177.8,497.5 L178.3,497.7 L178.7,497.8 L179.1,497.9 L179.5,498.0 L179.9,497.9 L180.3,497.7 L180.7,497.6 L181.1,497.5 L181.5,497.3 L181.9,497.2 L182.4,497.1 L182.8,497.0 L183.2,496.9 L183.6,496.8 L184.0,496.7 L184.4,496.6 L184.8,496.5 L185.2,496.4 L185.6,496.3 L186.0,496.3 L186.5,496.2 L186.9,496.1 L187.3,496.1 L187.7,496.1 L188.1,496.0 L188.5,496.0 L188.9,496.0 L189.3,496.0 L189.7,496.0 L190.1,496.0 L190.6,496.0 L191.0,496.0 L191.4,496.0 L191.8,496.1 L192.2,496.1 L192.6,496.2 L193.0,496.3 L193.4,496.3 L193.8,496.4 L194.2,496.5 L194.7,496.6 L195.1,496.7 L195.5,496.8 L195.9,496.9 L196.3,497.0 L196.7,497.1 L197.1,497.2 L197.5,497.3 L197.9,497.5 L198.3,497.6 L198.8,497.7 L199.2,497.9 L199.6,498.0 L200.0,498.1 L200.4,498.0 L200.8,497.8 L201.2,497.7 L201.6,497.6 L202.0,497.5 L202.4,497.3 L202.9,497.2 L203.3,497.1 L203.7,497.0 L204.1,496.9 L204.5,496.8 L204.9,496.7 L205.3,496.6 L205.7,496.5 L206.1,496.4 L206.5,496.4 L207.0,496.3 L207.4,496.2 L207.8,496.2 L208.2,496.2 L208.6,496.1 L209.0,496.1 L209.4,496.1 L209.8,496.1 L210.2,496.1 L210.6,496.1 L211.0,496.1 L211.5,496.1 L211.9,496.1 L212.3,496.2 L212.7,496.2 L213.1,496.3 L213.5,496.3 L213.9,496.4 L214.3,496.5 L214.7,496.5 L215.1,496.6 L215.6,496.7 L216.0,496.8 L216.4,496.9 L216.8,497.0 L217.2,497.2 L217.6,497.3 L218.0,497.4 L218.4,497.5 L218.8,497.6 L219.2,497.8 L219.7,497.9 L220.1,498.0 L220.5,498.2 L220.9,498.1 L221.3,498.0 L221.7,497.8 L222.1,497.7 L222.5,497.6 L222.9,497.5 L223.3,497.3 L223.8,497.2 L224.2,497.1 L224.6,497.0 L225.0,496.9 L225.4,496.8 L225.8,496.7 L226.2,496.6 L226.6,496.5 L227.0,496.5 L227.4,496.4 L227.9,496.3 L228.3,496.3 L228.7,496.2 L229.1,496.2 L229.5,496.2 L229.9,496.2 L230.3,496.1 L230.7,496.1 L231.1,496.1 L231.5,496.2 L232.0,496.2 L232.4,496.2 L232.8,496.2 L233.2,496.3 L233.6,496.3 L234.0,496.4 L234.4,496.5 L234.8,496.5 L235.2,496.6 L235.6,496.7 L236.1,496.8 L236.5,496.9 L236.9,497.0 L237.3,497.1 L237.7,497.2 L238.1,497.3 L238.5,497.5 L238.9,497.6 L239.3,497.7 L239.7,497.8 L240.2,498.0 L240.6,498.1 L241.0,498.2 L241.4,498.2 L241.8,498.1 L242.2,498.0 L242.6,497.8 L243.0,497.7 L243.4,497.6 L243.8,497.5 L244.2,497.3 L244.7,497.2 L245.1,497.1 L245.5,497.0 L245.9,496.9 L246.3,496.8 L246.7,496.7 L247.1,496.7 L247.5,496.6 L247.9,496.5 L248.3,496.4 L248.8,496.4 L249.2,496.3 L249.6,496.3 L250.0,496.3 L250.4,496.3 L250.8,496.2 L251.2,496.2 L251.6,496.2 L252.0,496.2 L252.4,496.3 L252.9,496.3 L253.3,496.3 L253.7,496.4 L254.1,496.4 L254.5,496.5 L254.9,496.5 L255.3,496.6 L255.7,496.7 L256.1,496.8 L256.5,496.9 L257.0,496.9 L257.4,497.1 L257.8,497.2 L258.2,497.3 L258.6,497.4 L259.0,497.5 L259.4,497.6 L259.8,497.8 L260.2,497.9 L260.6,498.0 L261.1,498.1 L261.5,498.3 L261.9,498.3 L262.3,498.2 L262.7,498.1 L263.1,497.9 L263.5,497.8 L263.9,497.7 L264.3,497.6 L264.7,497.5 L265.2,497.3 L265.6,497.2 L266.0,497.1 L266.4,497.0 L266.8,496.9 L267.2,496.8 L267.6,496.8 L268.0,496.7 L268.4,496.6 L268.8,496.5 L269.3,496.5 L269.7,496.4 L270.1,496.4 L270.5,496.4 L270.9,496.3 L271.3,496.3 L271.7,496.3 L272.1,496.3 L272.5,496.3 L272.9,496.3 L273.3,496.4 L273.8,496.4 L274.2,496.4 L274.6,496.5 L275.0,496.5 L275.4,496.6 L275.8,496.7 L276.2,496.7 L276.6,496.8 L277.0,496.9 L277.4,497.0 L277.9,497.1 L278.3,497.2 L278.7,497.3 L279.1,497.4 L279.5,497.6 L279.9,497.7 L280.3,497.8 L280.7,497.9 L281.1,498.1 L281.5,498.2 L282.0,498.3 L282.4,498.5 L282.8,498.3 L283.2,498.2 L283.6,498.1 L284.0,497.9 L284.4,497.8 L284.8,497.7 L285.2,497.6 L285.6,497.5 L286.1,497.3 L286.5,497.2 L286.9,497.1 L287.3,497.0 L287.7,497.0 L288.1,496.9 L288.5,496.8 L288.9,496.7 L289.3,496.6 L289.7,496.6 L290.2,496.5 L290.6,496.5 L291.0,496.5 L291.4,496.4 L291.8,496.4 L292.2,496.4 L292.6,496.4 L293.0,496.4 L293.4,496.4 L293.8,496.4 L294.3,496.5 L294.7,496.5 L295.1,496.6 L295.5,496.6 L295.9,496.7 L296.3,496.7 L296.7,496.8 L297.1,496.9 L297.5,497.0 L297.9,497.1 L298.4,497.2 L298.8,497.3 L299.2,497.4 L299.6,497.5 L300.0,497.6 L300.4,497.7 L300.8,497.9 L301.2,498.0 L301.6,498.1 L302.0,498.2 L302.5,498.4 L302.9,498.5 L303.3,498.4 L303.7,498.3 L304.1,498.2 L304.5,498.1 L304.9,497.9 L305.3,497.8 L305.7,497.7 L306.1,497.6 L306.5,497.5 L307.0,497.4 L307.4,497.3 L307.8,497.2 L308.2,497.1 L308.6,497.0 L309.0,496.9 L309.4,496.8 L309.8,496.8 L310.2,496.7 L310.6,496.6 L311.1,496.6 L311.5,496.6 L311.9,496.5 L312.3,496.5 L312.7,496.5 L313.1,496.5 L313.5,496.5 L313.9,496.5 L314.3,496.5 L314.7,496.5 L315.2,496.6 L315.6,496.6 L316.0,496.7 L316.4,496.7 L316.8,496.8 L317.2,496.9 L317.6,497.0 L318.0,497.0 L318.4,497.1 L318.8,497.2 L319.3,497.3 L319.7,497.4 L320.1,497.6 L320.5,497.7 L320.9,497.8 L321.3,497.9 L321.7,498.0 L322.1,498.2 L322.5,498.3 L322.9,498.4 L323.4,498.6 L323.8,498.6 L324.2,498.4 L324.6,498.3 L325.0,498.2 L325.4,498.1 L325.8,497.9 L326.2,497.8 L326.6,497.7 L327.0,497.6 L327.5,497.5 L327.9,497.4 L328.3,497.3 L328.7,497.2 L329.1,497.1 L329.5,497.0 L329.9,496.9 L330.3,496.9 L330.7,496.8 L331.1,496.7 L331.6,496.7 L332.0,496.7 L332.4,496.6 L332.8,496.6 L333.2,496.6 L333.6,496.6 L334.0,496.6 L334.4,496.6 L334.8,496.6 L335.2,496.6 L335.7,496.7 L336.1,496.7 L336.5,496.7 L336.9,496.8 L337.3,496.9 L337.7,496.9 L338.1,497.0 L338.5,497.1 L338.9,497.2 L339.3,497.3 L339.7,497.4 L340.2,497.5 L340.6,497.6 L341.0,497.7 L341.4,497.8 L341.8,498.0 L342.2,498.1 L342.6,498.2 L343.0,498.4 L343.4,498.5 L343.8,498.6 L344.3,498.7 L344.7,498.6 L345.1,498.4 L345.5,498.3 L345.9,498.2 L346.3,498.0 L346.7,497.9 L347.1,497.8 L347.5,497.7 L347.9,497.6 L348.4,497.5 L348.8,497.4 L349.2,497.3 L349.6,497.2 L350.0,497.1 L350.4,497.0 L350.8,497.0 L351.2,496.9 L351.6,496.8 L352.0,496.8 L352.5,496.7 L352.9,496.7 L353.3,496.7 L353.7,496.7 L354.1,496.7 L354.5,496.7 L354.9,496.7 L355.3,496.7 L355.7,496.7 L356.1,496.7 L356.6,496.8 L357.0,496.8 L357.4,496.9 L357.8,496.9 L358.2,497.0 L358.6,497.1 L359.0,497.2 L359.4,497.3 L359.8,497.4 L360.2,497.5 L360.7,497.6 L361.1,497.7 L361.5,497.8 L361.9,497.9 L362.3,498.0 L362.7,498.1 L363.1,498.3 L363.5,498.4 L363.9,498.5 L364.3,498.7 L364.8,498.8 L365.2,498.7 L365.6,498.5 L366.0,498.4 L366.4,498.3 L366.8,498.2 L367.2,498.0 L367.6,497.9 L368.0,497.8 L368.4,497.7 L368.8,497.6 L369.3,497.5 L369.7,497.4 L370.1,497.3 L370.5,497.2 L370.9,497.1 L371.3,497.1 L371.7,497.0 L372.1,496.9 L372.5,496.9 L372.9,496.8 L373.4,496.8 L373.8,496.8 L374.2,496.8 L374.6,496.7 L375.0,496.7 L375.4,496.8 L375.8,496.8 L376.2,496.8 L376.6,496.8 L377.0,496.9 L377.5,496.9 L377.9,496.9 L378.3,497.0 L378.7,497.1 L379.1,497.1 L379.5,497.2 L379.9,497.3 L380.3,497.4 L380.7,497.5 L381.1,497.6 L381.6,497.7 L382.0,497.8 L382.4,498.0 L382.8,498.1 L383.2,498.2 L383.6,498.3 L384.0,498.5 L384.4,498.6 L384.8,498.7 L385.2,498.9 L385.7,498.8 L386.1,498.7 L386.5,498.5 L386.9,498.4 L387.3,498.3 L387.7,498.2 L388.1,498.0 L388.5,497.9 L388.9,497.8 L389.3,497.7 L389.8,497.6 L390.2,497.5 L390.6,497.4 L391.0,497.3 L391.4,497.2 L391.8,497.2 L392.2,497.1 L392.6,497.0 L393.0,497.0 L393.4,496.9 L393.9,496.9 L394.3,496.9 L394.7,496.9 L395.1,496.8 L395.5,496.8 L395.9,496.8 L396.3,496.8 L396.7,496.9 L397.1,496.9 L397.5,496.9 L398.0,497.0 L398.4,497.0 L398.8,497.1 L399.2,497.1 L399.6,497.2 L400.0,497.3 L400.0,508.4 L399.6,508.5 L399.2,508.6 L398.8,508.7 L398.4,508.8 L398.0,508.9 L397.5,509.0 L397.1,509.1 L396.7,509.2 L396.3,509.2 L395.9,509.3 L395.5,509.3 L395.1,509.4 L394.7,509.4 L394.3,509.5 L393.9,509.5 L393.4,509.5 L393.0,509.5 L392.6,509.5 L392.2,509.5 L391.8,509.5 L391.4,509.5 L391.0,509.4 L390.6,509.4 L390.2,509.4 L389.8,509.3 L389.3,509.2 L388.9,509.2 L388.5,509.1 L388.1,509.0 L387.7,508.9 L387.3,508.8 L386.9,508.7 L386.5,508.6 L386.1,508.5 L385.7,508.4 L385.2,508.3 L384.8,508.1 L384.4,508.0 L384.0,507.9 L383.6,507.8 L383.2,507.6 L382.8,507.5 L382.4,507.4 L382.0,507.5 L381.6,507.6 L381.1,507.8 L380.7,507.9 L380.3,508.0 L379.9,508.1 L379.5,508.3 L379.1,508.4 L378.7,508.5 L378.3,508.6 L377.9,508.7 L377.5,508.8 L377.0,508.9 L376.6,509.0 L376.2,509.0 L375.8,509.1 L375.4,509.2 L375.0,509.2 L374.6,509.3 L374.2,509.3 L373.8,509.4 L373.4,509.4 L372.9,509.4 L372.5,509.4 L372.1,509.4 L371.7,509.4 L371.3,509.4 L370.9,509.4 L370.5,509.4 L370.1,509.3 L369.7,509.3 L369.3,509.2 L368.8,509.2 L368.4,509.1 L368.0,509.0 L367.6,508.9 L367.2,508.9 L366.8,508.8 L366.4,508.7 L366.0,508.6 L365.6,508.4 L365.2,508.3 L364.8,508.2 L364.3,508.1 L363.9,508.0 L363.5,507.8 L363.1,507.7 L362.7,507.6 L362.3,507.4 L361.9,507.3 L361.5,507.4 L361.1,507.5 L360.7,507.7 L360.2,507.8 L359.8,507.9 L359.4,508.0 L359.0,508.1 L358.6,508.3 L358.2,508.4 L357.8,508.5 L357.4,508.6 L357.0,508.7 L356.6,508.8 L356.1,508.9 L355.7,508.9 L355.3,509.0 L354.9,509.1 L354.5,509.1 L354.1,509.2 L353.7,509.2 L353.3,509.3 L352.9,509.3 L352.5,509.3 L352.0,509.3 L351.6,509.3 L351.2,509.3 L350.8,509.3 L350.4,509.3 L350.0,509.3 L349.6,509.3 L349.2,509.2 L348.8,509.2 L348.4,509.1 L347.9,509.0 L347.5,509.0 L347.1,508.9 L346.7,508.8 L346.3,508.7 L345.9,508.6 L345.5,508.5 L345.1,508.4 L344.7,508.3 L344.3,508.2 L343.8,508.0 L343.4,507.9 L343.0,507.8 L342.6,507.7 L342.2,507.5 L341.8,507.4 L341.4,507.3 L341.0,507.3 L340.6,507.4 L340.2,507.5 L339.7,507.7 L339.3,507.8 L338.9,507.9 L338.5,508.0 L338.1,508.1 L337.7,508.3 L337.3,508.4 L336.9,508.5 L336.5,508.6 L336.1,508.7 L335.7,508.8 L335.2,508.8 L334.8,508.9 L334.4,509.0 L334.0,509.0 L333.6,509.1 L333.2,509.1 L332.8,509.2 L332.4,509.2 L332.0,509.2 L331.6,509.3 L331.1,509.3 L330.7,509.3 L330.3,509.3 L329.9,509.2 L329.5,509.2 L329.1,509.2 L328.7,509.1 L328.3,509.1 L327.9,509.0 L327.5,509.0 L327.0,508.9 L326.6,508.8 L326.2,508.7 L325.8,508.6 L325.4,508.5 L325.0,508.4 L324.6,508.3 L324.2,508.2 L323.8,508.1 L323.4,508.0 L322.9,507.9 L322.5,507.7 L322.1,507.6 L321.7,507.5 L321.3,507.3 L320.9,507.2 L320.5,507.2 L320.1,507.3 L319.7,507.4 L319.3,507.5 L318.8,507.7 L318.4,507.8 L318.0,507.9 L317.6,508.0 L317.2,508.1 L316.8,508.3 L316.4,508.4 L316.0,508.5 L315.6,508.6 L315.2,508.6 L314.7,508.7 L314.3,508.8 L313.9,508.9 L313.5,508.9 L313.1,509.0 L312.7,509.0 L312.3,509.1 L311.9,509.1 L311.5,509.1 L311.1,509.2 L310.6,509.2 L310.2,509.2 L309.8,509.2 L309.4,509.2 L309.0,509.1 L308.6,509.1 L308.2,509.1 L307.8,509.0 L307.4,509.0 L307.0,508.9 L306.5,508.8 L306.1,508.7 L305.7,508.7 L305.3,508.6 L304.9,508.5 L304.5,508.4 L304.1,508.3 L303.7,508.2 L303.3,508.0 L302.9,507.9 L302.5,507.8 L302.0,507.7 L301.6,507.6 L301.2,507.4 L300.8,507.3 L300.4,507.2 L300.0,507.0 L299.6,507.2 L299.2,507.3 L298.8,507.4 L298.4,507.5 L297.9,507.7 L297.5,507.8 L297.1,507.9 L296.7,508.0 L296.3,508.1 L295.9,508.2 L295.5,508.3 L295.1,508.4 L294.7,508.5 L294.3,508.6 L293.8,508.7 L293.4,508.8 L293.0,508.8 L292.6,508.9 L292.2,508.9 L291.8,509.0 L291.4,509.0 L291.0,509.1 L290.6,509.1 L290.2,509.1 L289.7,509.1 L289.3,509.1 L288.9,509.1 L288.5,509.0 L288.1,509.0 L287.7,509.0 L287.3,508.9 L286.9,508.9 L286.5,508.8 L286.1,508.8 L285.6,508.7 L285.2,508.6 L284.8,508.5 L284.4,508.4 L284.0,508.3 L283.6,508.2 L283.2,508.1 L282.8,508.0 L282.4,507.9 L282.0,507.8 L281.5,507.6 L281.1,507.5 L280.7,507.4 L280.3,507.2 L279.9,507.1 L279.5,507.0 L279.1,507.0 L278.7,507.2 L278.3,507.3 L277.9,507.4 L277.4,507.6 L277.0,507.7 L276.6,507.8 L276.2,507.9 L275.8,508.0 L275.4,508.1 L275.0,508.2 L274.6,508.3 L274.2,508.4 L273.8,508.5 L273.3,508.6 L272.9,508.7 L272.5,508.7 L272.1,508.8 L271.7,508.8 L271.3,508.9 L270.9,508.9 L270.5,509.0 L270.1,509.0 L269.7,509.0 L269.3,509.0 L268.8,509.0 L268.4,509.0 L268.0,509.0 L267.6,508.9 L267.2,508.9 L266.8,508.9 L266.4,508.8 L266.0,508.8 L265.6,508.7 L265.2,508.6 L264.7,508.5 L264.3,508.5 L263.9,508.4 L263.5,508.3 L263.1,508.2 L262.7,508.0 L262.3,507.9 L261.9,507.8 L261.5,507.7 L261.1,507.6 L260.6,507.4 L260.2,507.3 L259.8,507.2 L259.4,507.1 L259.0,506.9 L258.6,506.9 L258.2,507.1 L257.8,507.2 L257.4,507.3 L257.0,507.4 L256.5,507.6 L256.1,507.7 L255.7,507.8 L255.3,507.9 L254.9,508.0 L254.5,508.1 L254.1,508.2 L253.7,508.3 L253.3,508.4 L252.9,508.5 L252.4,508.6 L252.0,508.6 L251.6,508.7 L251.2,508.7 L250.8,508.8 L250.4,508.8 L250.0,508.9 L249.6,508.9 L249.2,508.9 L248.8,508.9 L248.3,508.9 L247.9,508.9 L247.5,508.9 L247.1,508.9 L246.7,508.8 L246.3,508.8 L245.9,508.7 L245.5,508.7 L245.1,508.6 L244.7,508.5 L244.2,508.5 L243.8,508.4 L243.4,508.3 L243.0,508.2 L242.6,508.1 L242.2,508.0 L241.8,507.9 L241.4,507.8 L241.0,507.6 L240.6,507.5 L240.2,507.4 L239.7,507.3 L239.3,507.1 L238.9,507.0 L238.5,506.9 L238.1,506.8 L237.7,506.9 L237.3,507.1 L236.9,507.2 L236.5,507.3 L236.1,507.4 L235.6,507.6 L235.2,507.7 L234.8,507.8 L234.4,507.9 L234.0,508.0 L233.6,508.1 L233.2,508.2 L232.8,508.3 L232.4,508.4 L232.0,508.5 L231.5,508.5 L231.1,508.6 L230.7,508.6 L230.3,508.7 L229.9,508.7 L229.5,508.8 L229.1,508.8 L228.7,508.8 L228.3,508.8 L227.9,508.8 L227.4,508.8 L227.0,508.8 L226.6,508.8 L226.2,508.8 L225.8,508.7 L225.4,508.7 L225.0,508.6 L224.6,508.6 L224.2,508.5 L223.8,508.4 L223.3,508.3 L222.9,508.2 L222.5,508.1 L222.1,508.0 L221.7,507.9 L221.3,507.8 L220.9,507.7 L220.5,507.6 L220.1,507.5 L219.7,507.3 L219.2,507.2 L218.8,507.1 L218.4,507.0 L218.0,506.8 L217.6,506.7 L217.2,506.8 L216.8,506.9 L216.4,507.1 L216.0,507.2 L215.6,507.3 L215.1,507.4 L214.7,507.6 L214.3,507.7 L213.9,507.8 L213.5,507.9 L213.1,508.0 L212.7,508.1 L212.3,508.2 L211.9,508.3 L211.5,508.4 L211.0,508.4 L210.6,508.5 L210.2,508.5 L209.8,508.6 L209.4,508.6 L209.0,508.7 L208.6,508.7 L208.2,508.7 L207.8,508.7 L207.4,508.7 L207.0,508.7 L206.5,508.7 L206.1,508.7 L205.7,508.7 L205.3,508.6 L204.9,508.6 L204.5,508.5 L204.1,508.5 L203.7,508.4 L203.3,508.3 L202.9,508.3 L202.4,508.2 L202.0,508.1 L201.6,508.0 L201.2,507.9 L200.8,507.8 L200.4,507.7 L200.0,507.5 L199.6,507.4 L199.2,507.3 L198.8,507.2 L198.3,507.0 L197.9,506.9 L197.5,506.8 L197.1,506.6 L196.7,506.7 L196.3,506.8 L195.9,507.0 L195.5,507.1 L195.1,507.2 L194.7,507.3 L194.2,507.4 L193.8,507.6 L193.4,507.7 L193.0,507.8 L192.6,507.9 L192.2,508.0 L191.8,508.1 L191.4,508.2 L191.0,508.2 L190.6,508.3 L190.1,508.4 L189.7,508.4 L189.3,508.5 L188.9,508.5 L188.5,508.6 L188.1,508.6 L187.7,508.6 L187.3,508.7 L186.9,508.7 L186.5,508.7 L186.0,508.6 L185.6,508.6 L185.2,508.6 L184.8,508.6 L184.4,508.5 L184.0,508.5 L183.6,508.4 L183.2,508.3 L182.8,508.3 L182.4,508.2 L181.9,508.1 L181.5,508.0 L181.1,507.9 L180.7,507.8 L180.3,507.7 L179.9,507.6 L179.5,507.5 L179.1,507.4 L178.7,507.2 L178.3,507.1 L177.8,507.0 L177.4,506.8 L177.0,506.7 L176.6,506.6 L176.2,506.6 L175.8,506.7 L175.4,506.8 L175.0,507.0 L174.6,507.1 L174.2,507.2 L173.8,507.3 L173.3,507.4 L172.9,507.6 L172.5,507.7 L172.1,507.8 L171.7,507.9 L171.3,508.0 L170.9,508.1 L170.5,508.1 L170.1,508.2 L169.7,508.3 L169.2,508.3 L168.8,508.4 L168.4,508.4 L168.0,508.5 L167.6,508.4 L167.2,508.4 L166.8,508.4 L166.4,508.4 L166.0,508.4 L165.6,508.3 L165.1,508.3 L164.7,508.2 L164.3,508.1 L163.9,508.1 L163.5,508.0 L163.1,507.9 L162.7,507.9 L162.3,507.8 L161.9,507.7 L161.5,507.6 L161.0,507.5 L160.6,507.4 L160.2,507.3 L159.8,507.2 L159.4,507.1 L159.0,507.1 L158.6,507.0 L158.2,506.9 L157.8,506.8 L157.4,506.7 L156.9,506.6 L156.5,506.5 L156.1,506.4 L155.7,506.4 L155.3,506.4 L154.9,506.4 L154.5,506.5 L154.1,506.5 L153.7,506.5 L153.3,506.6 L152.8,506.6 L152.4,506.6 L152.0,506.6 L151.6,506.6 L151.2,506.6 L150.8,506.6 L150.4,506.6 L150.0,506.6 L149.6,506.5 L149.2,506.5 L148.7,506.5 L148.3,506.4 L147.9,506.4 L147.5,506.4 L147.1,506.3 L146.7,506.3 L146.3,506.2 L145.9,506.2 L145.5,506.1 L145.1,506.1 L144.7,506.0 L144.2,506.0 L143.8,505.9 L143.4,505.9 L143.0,505.9 L142.6,505.8 L142.2,505.8 L141.8,505.8 L141.4,505.8 L141.0,505.8 L140.6,505.7 L140.1,505.7 L139.7,505.7 L139.3,505.7 L138.9,505.7 L138.5,505.7 L138.1,505.6 L137.7,505.6 L137.3,505.6 L136.9,505.6 L136.5,505.6 L136.0,505.5 L135.6,505.5 L135.2,505.5 L134.8,505.5 L134.4,505.5 L134.0,505.4 L133.6,505.4 L133.2,505.4 L132.8,505.4 L132.4,505.4 L131.9,505.3 L131.5,505.3 L131.1,505.3 L130.7,505.3 L130.3,505.3 L129.9,505.2 L129.5,505.2 L129.1,505.2 L128.7,505.2 L128.3,505.1 L127.8,505.1 L127.4,505.1 L127.0,505.1 L126.6,505.0 L126.2,505.0 L125.8,505.0 L125.4,505.0 L125.0,504.9 L124.6,504.9 L124.2,504.9 L123.7,504.9 L123.3,504.8 L122.9,504.8 L122.5,504.8 L122.1,504.7 L121.7,504.7 L121.3,504.7 L120.9,504.6 L120.5,504.6 L120.1,504.6 L119.6,504.5 L119.2,504.5 L118.8,504.5 L118.4,504.4 L118.0,504.4 L117.6,504.3 L117.2,504.3 L116.8,504.3 L116.4,504.2 L116.0,504.2 L115.5,504.1 L115.1,504.0 L114.7,504.0 L114.3,503.9 L113.9,503.8 L113.5,503.5 Z"/>
</g>
<g transform="rotate(0.0 469.0 74.0)"><ellipse cx="567.5" cy="74.4" rx="7.2" ry="10.0" fill="#232226" stroke="#141416" stroke-width="0.8"/><path d="M369.0,66.5 L370.0,66.5 C378.0,66.5 383.0,51.2 416.0,51.2 L556.0,51.2 C562.0,51.2 568.0,58.0 568.0,64.7 L568.0,83.3 C568.0,90.0 562.0,96.8 556.0,96.8 L416.0,96.8 C383.0,96.8 378.0,80.0 370.0,80.0 L369.0,80.0 Z" fill="url(#bg)"/><path d="M369.0,66.5 L370.0,66.5 C378.0,66.5 383.0,51.2 416.0,51.2 L556.0,51.2 C562.0,51.2 568.0,58.0 568.0,64.7 L568.0,83.3 C568.0,90.0 562.0,96.8 556.0,96.8 L416.0,96.8 C383.0,96.8 378.0,80.0 370.0,80.0 L369.0,80.0" fill="none" stroke="#141416" stroke-width="0.9"/><line x1="531.0" y1="51.8" x2="528.3" y2="96.2" stroke="#121214" stroke-width="1.1"/><line x1="532.1" y1="52.7" x2="529.4" y2="95.3" stroke="#3c3c40" stroke-width="0.8"/></g>
<g transform="rotate(-0.4 472.8 145.6)"><ellipse cx="572.0" cy="144.6" rx="6.5" ry="9.4" fill="#232226" stroke="#141416" stroke-width="0.8"/><path d="M372.0,140.3 L373.0,140.3 C380.0,140.3 384.3,123.0 413.0,123.0 L560.5,123.0 C566.5,123.0 572.5,129.8 572.5,136.5 L572.5,154.7 C572.5,161.4 566.5,168.2 560.5,168.2 L413.0,168.2 C384.3,168.2 380.0,150.3 373.0,150.3 L372.0,150.3 Z" fill="url(#bg)"/><path d="M372.0,140.3 L373.0,140.3 C380.0,140.3 384.3,123.0 413.0,123.0 L560.5,123.0 C566.5,123.0 572.5,129.8 572.5,136.5 L572.5,154.7 C572.5,161.4 566.5,168.2 560.5,168.2 L413.0,168.2 C384.3,168.2 380.0,150.3 373.0,150.3 L372.0,150.3" fill="none" stroke="#141416" stroke-width="0.9"/><line x1="534.5" y1="123.6" x2="533.0" y2="167.6" stroke="#121214" stroke-width="1.1"/><line x1="535.6" y1="124.5" x2="534.1" y2="166.7" stroke="#3c3c40" stroke-width="0.8"/></g>
<g transform="rotate(-3.2 479.5 216.1)"><ellipse cx="578.5" cy="215.8" rx="7.5" ry="9.4" fill="#232226" stroke="#141416" stroke-width="0.8"/><path d="M379.0,209.7 L380.0,209.7 C387.3,209.7 391.9,194.1 422.0,194.1 L567.0,194.1 C573.0,194.1 579.0,200.8 579.0,207.6 L579.0,224.6 C579.0,231.3 573.0,238.1 567.0,238.1 L422.0,238.1 C391.9,238.1 387.3,219.5 380.0,219.5 L379.0,219.5 Z" fill="url(#bg)"/><path d="M379.0,209.7 L380.0,209.7 C387.3,209.7 391.9,194.1 422.0,194.1 L567.0,194.1 C573.0,194.1 579.0,200.8 579.0,207.6 L579.0,224.6 C579.0,231.3 573.0,238.1 567.0,238.1 L422.0,238.1 C391.9,238.1 387.3,219.5 380.0,219.5 L379.0,219.5" fill="none" stroke="#141416" stroke-width="0.9"/><line x1="539.0" y1="194.7" x2="540.6" y2="237.5" stroke="#121214" stroke-width="1.1"/><line x1="540.1" y1="195.6" x2="541.7" y2="236.6" stroke="#3c3c40" stroke-width="0.8"/></g>
<g transform="rotate(-0.5 493.0 339.7)"><ellipse cx="592.5" cy="338.7" rx="7.5" ry="9.0" fill="#232226" stroke="#141416" stroke-width="0.8"/><path d="M392.0,334.6 L393.0,334.6 C398.9,334.6 402.6,318.3 427.0,318.3 L581.0,318.3 C587.0,318.3 593.0,325.1 593.0,331.8 L593.0,347.6 C593.0,354.3 587.0,361.1 581.0,361.1 L427.0,361.1 C402.6,361.1 398.9,344.8 393.0,344.8 L392.0,344.8 Z" fill="url(#bg)"/><path d="M392.0,334.6 L393.0,334.6 C398.9,334.6 402.6,318.3 427.0,318.3 L581.0,318.3 C587.0,318.3 593.0,325.1 593.0,331.8 L593.0,347.6 C593.0,354.3 587.0,361.1 581.0,361.1 L427.0,361.1 C402.6,361.1 398.9,344.8 393.0,344.8 L392.0,344.8" fill="none" stroke="#141416" stroke-width="0.9"/><line x1="554.0" y1="318.9" x2="553.5" y2="360.5" stroke="#121214" stroke-width="1.1"/><line x1="555.1" y1="319.8" x2="554.6" y2="359.6" stroke="#3c3c40" stroke-width="0.8"/></g>
<g transform="rotate(-0.7 493.5 423.4)"><ellipse cx="591.5" cy="422.4" rx="7.9" ry="9.0" fill="#232226" stroke="#141416" stroke-width="0.8"/><path d="M394.0,419.4 L395.0,419.4 C400.9,419.4 404.6,402.0 429.0,402.0 L580.0,402.0 C586.0,402.0 592.0,408.8 592.0,415.5 L592.0,431.3 C592.0,438.0 586.0,444.8 580.0,444.8 L429.0,444.8 C404.6,444.8 400.9,433.0 395.0,433.0 L394.0,433.0 Z" fill="url(#bg)"/><path d="M394.0,419.4 L395.0,419.4 C400.9,419.4 404.6,402.0 429.0,402.0 L580.0,402.0 C586.0,402.0 592.0,408.8 592.0,415.5 L592.0,431.3 C592.0,438.0 586.0,444.8 580.0,444.8 L429.0,444.8 C404.6,444.8 400.9,433.0 395.0,433.0 L394.0,433.0" fill="none" stroke="#141416" stroke-width="0.9"/><line x1="553.0" y1="402.6" x2="553.5" y2="444.2" stroke="#121214" stroke-width="1.1"/><line x1="554.1" y1="403.5" x2="554.6" y2="443.3" stroke="#3c3c40" stroke-width="0.8"/></g>
<g transform="rotate(0.0 492.0 503.5)"><ellipse cx="591.5" cy="501.8" rx="7.2" ry="8.8" fill="#232226" stroke="#141416" stroke-width="0.8"/><path d="M391.0,498.0 L392.0,498.0 C398.3,498.0 402.2,481.3 428.0,481.3 L580.0,481.3 C586.0,481.3 592.0,488.1 592.0,494.8 L592.0,512.2 C592.0,519.0 586.0,525.7 580.0,525.7 L428.0,525.7 C402.2,525.7 398.3,508.4 392.0,508.4 L391.0,508.4 Z" fill="url(#bg)"/><path d="M391.0,498.0 L392.0,498.0 C398.3,498.0 402.2,481.3 428.0,481.3 L580.0,481.3 C586.0,481.3 592.0,488.1 592.0,494.8 L592.0,512.2 C592.0,519.0 586.0,525.7 580.0,525.7 L428.0,525.7 C402.2,525.7 398.3,508.4 392.0,508.4 L391.0,508.4" fill="none" stroke="#141416" stroke-width="0.9"/><line x1="551.0" y1="481.9" x2="555.0" y2="525.1" stroke="#121214" stroke-width="1.1"/><line x1="552.1" y1="482.8" x2="556.1" y2="524.2" stroke="#3c3c40" stroke-width="0.8"/></g>
<text transform="translate(276.25,60.60) scale(0.9,1)" x="0" y="0" font-family="Liberation Sans" font-size="22" fill="#2b2b2e" textLength="100.83" lengthAdjust="spacing">L:355mm</text><text transform="translate(277.00,132.50) scale(0.9,1)" x="0" y="0" font-family="Liberation Sans" font-size="22" fill="#2b2b2e" textLength="100.28" lengthAdjust="spacing">L:355mm</text><text transform="translate(277.00,205.60) scale(0.9,1)" x="0" y="0" font-family="Liberation Sans" font-size="22" fill="#2b2b2e" textLength="101.67" lengthAdjust="spacing">L:355mm</text><text transform="translate(161.00,330.25) scale(0.9,1)" x="0" y="0" font-family="Liberation Sans" font-size="22" fill="#2b2b2e" textLength="92.78" lengthAdjust="spacing">D:5.5mm</text><text transform="translate(297.50,330.25) scale(0.9,1)" x="0" y="0" font-family="Liberation Sans" font-size="22" fill="#2b2b2e" textLength="101.11" lengthAdjust="spacing">L:112mm</text><text transform="translate(160.75,413.60) scale(0.9,1)" x="0" y="0" font-family="Liberation Sans" font-size="22" fill="#2b2b2e" textLength="94.72" lengthAdjust="spacing">D:7.5mm</text><text transform="translate(297.50,415.75) scale(0.9,1)" x="0" y="0" font-family="Liberation Sans" font-size="22" fill="#2b2b2e" textLength="101.11" lengthAdjust="spacing">L:112mm</text><text transform="translate(161.00,489.40) scale(0.9,1)" x="0" y="0" font-family="Liberation Sans" font-size="22" fill="#2b2b2e" textLength="94.44" lengthAdjust="spacing">D:6.5mm</text><text transform="translate(297.50,491.00) scale(0.9,1)" x="0" y="0" font-family="Liberation Sans" font-size="22" fill="#2b2b2e" textLength="101.11" lengthAdjust="spacing">L:138mm</text><text transform="translate(19.50,623.75) scale(0.9,1)" x="0" y="0" font-family="Liberation Sans" font-size="22" fill="#2b2b2e" textLength="71.11" lengthAdjust="spacing">7.5mm</text><text transform="translate(61.25,688.10) scale(0.9,1)" x="0" y="0" font-family="Liberation Sans" font-size="22" fill="#2b2b2e" textLength="94.17" lengthAdjust="spacing">D:6.5mm</text><text transform="translate(180.75,744.00) scale(0.9,1)" x="0" y="0" font-family="Liberation Sans" font-size="22" fill="#2b2b2e" textLength="94.72" lengthAdjust="spacing">D:5.5mm</text><text transform="translate(619.25,79.50) scale(0.92,1)" x="0" y="0" font-family="Liberation Sans" font-size="15.4" fill="#2b2b2e" textLength="191.58" lengthAdjust="spacing">Thick and long (old player)</text><text transform="translate(618.00,148.10) scale(0.92,1)" x="0" y="0" font-family="Liberation Sans" font-size="15.4" fill="#2b2b2e" textLength="166.30" lengthAdjust="spacing">Long wave (advanced)</text><text transform="translate(619.00,213.90) scale(0.92,1)" x="0" y="0" font-family="Liberation Sans" font-size="15.4" fill="#2b2b2e" textLength="163.59" lengthAdjust="spacing">Slender long (beginner)</text><text transform="translate(619.00,343.50) scale(0.92,1)" x="0" y="0" font-family="Liberation Sans" font-size="15.4" fill="#2b2b2e" textLength="165.22" lengthAdjust="spacing">Slender short(beginner)</text><text transform="translate(619.00,428.10) scale(0.92,1)" x="0" y="0" font-family="Liberation Sans" font-size="15.4" fill="#2b2b2e" textLength="193.75" lengthAdjust="spacing">Thick and short(old player)</text><text transform="translate(619.00,508.75) scale(0.92,1)" x="0" y="0" font-family="Liberation Sans" font-size="15.4" fill="#2b2b2e" textLength="162.50" lengthAdjust="spacing">Wave short(advanced)</text>
<text transform="translate(433.00,599.00) scale(0.92,1)" font-family="Liberation Sans" font-size="40" fill="#27272c" stroke="#27272c" stroke-width="1.7" textLength="140.76" lengthAdjust="spacing">BLACK</text><path d="M416,559.4 L425.6,559.4 Q418.8,583.5 425.6,607.5 L416,607.5 Z" fill="#27272c"/><path d="M583,559.5 L573.2,559.5 Q580,583.5 573.2,607.5 L583,607.5 Z" fill="#27272c"/>
<g fill="#8c8c8c" fill-opacity="0.065" stroke="#8c8c8c" stroke-opacity="0.05" stroke-width="1.2" font-family="Liberation Serif" font-style="italic" font-weight="bold"><text x="199" y="281.5" font-size="104" textLength="439" lengthAdjust="spacingAndGlyphs">You &amp; Me</text><text x="103" y="528" font-size="90" textLength="655" lengthAdjust="spacingAndGlyphs">Store No.1213213</text></g><g fill="#ffffff" fill-opacity="0.045" font-family="Liberation Serif" font-style="italic" font-weight="bold"><text x="199" y="281.5" font-size="104" textLength="439" lengthAdjust="spacingAndGlyphs">You &amp; Me</text><text x="103" y="528" font-size="90" textLength="655" lengthAdjust="spacingAndGlyphs">Store No.1213213</text></g>
</svg>
</body></html>
